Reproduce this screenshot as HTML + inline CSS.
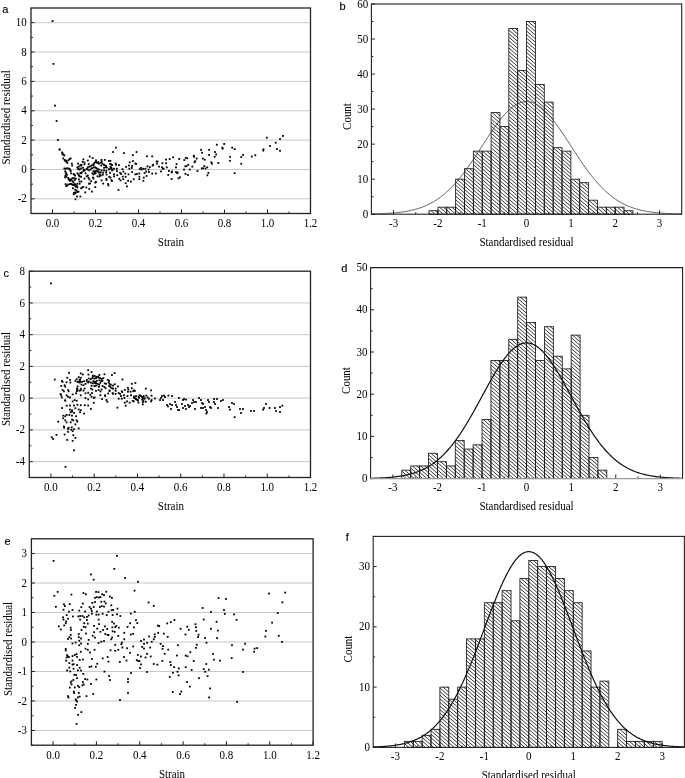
<!DOCTYPE html>
<html><head><meta charset="utf-8"><style>
html,body{margin:0;padding:0;background:#fff;}
body{width:685px;height:778px;overflow:hidden;}
svg{display:block;}
</style></head><body>
<svg width="685" height="778" viewBox="0 0 685 778" style="will-change:transform">
<defs></defs>
<rect width="685" height="778" fill="#fff"/>
<line x1="31.00" y1="198.82" x2="310.50" y2="198.82" stroke="#c8c8c8" stroke-width="1"/>
<line x1="31.00" y1="169.46" x2="310.50" y2="169.46" stroke="#c8c8c8" stroke-width="1"/>
<line x1="31.00" y1="140.11" x2="310.50" y2="140.11" stroke="#c8c8c8" stroke-width="1"/>
<line x1="31.00" y1="110.75" x2="310.50" y2="110.75" stroke="#c8c8c8" stroke-width="1"/>
<line x1="31.00" y1="81.39" x2="310.50" y2="81.39" stroke="#c8c8c8" stroke-width="1"/>
<line x1="31.00" y1="52.04" x2="310.50" y2="52.04" stroke="#c8c8c8" stroke-width="1"/>
<line x1="31.00" y1="22.68" x2="310.50" y2="22.68" stroke="#c8c8c8" stroke-width="1"/>
<rect x="58.72" y="148.72" width="1.8" height="1.8"/>
<rect x="61.18" y="151.56" width="1.8" height="1.8"/>
<rect x="61.93" y="152.68" width="1.8" height="1.8"/>
<rect x="62.68" y="153.79" width="1.8" height="1.8"/>
<rect x="63.42" y="154.54" width="1.8" height="1.8"/>
<rect x="61.56" y="153.42" width="1.8" height="1.8"/>
<rect x="62.30" y="157.52" width="1.8" height="1.8"/>
<rect x="63.79" y="159.01" width="1.8" height="1.8"/>
<rect x="64.54" y="160.13" width="1.8" height="1.8"/>
<rect x="65.66" y="160.88" width="1.8" height="1.8"/>
<rect x="66.40" y="162.00" width="1.8" height="1.8"/>
<rect x="67.52" y="159.39" width="1.8" height="1.8"/>
<rect x="68.64" y="158.27" width="1.8" height="1.8"/>
<rect x="69.76" y="157.52" width="1.8" height="1.8"/>
<rect x="65.29" y="159.76" width="1.8" height="1.8"/>
<rect x="70.88" y="162.74" width="1.8" height="1.8"/>
<rect x="71.25" y="164.61" width="1.8" height="1.8"/>
<rect x="63.42" y="167.59" width="1.8" height="1.8"/>
<rect x="64.54" y="167.81" width="1.8" height="1.8"/>
<rect x="66.03" y="167.37" width="1.8" height="1.8"/>
<rect x="67.52" y="167.59" width="1.8" height="1.8"/>
<rect x="68.64" y="167.96" width="1.8" height="1.8"/>
<rect x="69.39" y="169.08" width="1.8" height="1.8"/>
<rect x="69.76" y="170.20" width="1.8" height="1.8"/>
<rect x="64.91" y="171.69" width="1.8" height="1.8"/>
<rect x="65.29" y="172.81" width="1.8" height="1.8"/>
<rect x="66.03" y="173.93" width="1.8" height="1.8"/>
<rect x="65.29" y="175.79" width="1.8" height="1.8"/>
<rect x="67.15" y="176.91" width="1.8" height="1.8"/>
<rect x="67.90" y="178.03" width="1.8" height="1.8"/>
<rect x="68.27" y="179.15" width="1.8" height="1.8"/>
<rect x="69.01" y="179.89" width="1.8" height="1.8"/>
<rect x="70.13" y="178.40" width="1.8" height="1.8"/>
<rect x="70.88" y="179.52" width="1.8" height="1.8"/>
<rect x="72.00" y="180.64" width="1.8" height="1.8"/>
<rect x="72.74" y="181.76" width="1.8" height="1.8"/>
<rect x="66.03" y="184.74" width="1.8" height="1.8"/>
<rect x="67.15" y="183.62" width="1.8" height="1.8"/>
<rect x="69.01" y="183.25" width="1.8" height="1.8"/>
<rect x="70.13" y="182.88" width="1.8" height="1.8"/>
<rect x="71.25" y="183.62" width="1.8" height="1.8"/>
<rect x="72.37" y="184.00" width="1.8" height="1.8"/>
<rect x="73.49" y="184.37" width="1.8" height="1.8"/>
<rect x="74.23" y="183.25" width="1.8" height="1.8"/>
<rect x="75.35" y="184.37" width="1.8" height="1.8"/>
<rect x="76.10" y="185.49" width="1.8" height="1.8"/>
<rect x="76.47" y="186.61" width="1.8" height="1.8"/>
<rect x="72.00" y="187.35" width="1.8" height="1.8"/>
<rect x="74.23" y="188.84" width="1.8" height="1.8"/>
<rect x="75.73" y="189.59" width="1.8" height="1.8"/>
<rect x="76.47" y="191.08" width="1.8" height="1.8"/>
<rect x="77.59" y="190.71" width="1.8" height="1.8"/>
<rect x="73.12" y="191.83" width="1.8" height="1.8"/>
<rect x="74.23" y="192.57" width="1.8" height="1.8"/>
<rect x="72.74" y="193.32" width="1.8" height="1.8"/>
<rect x="74.98" y="191.45" width="1.8" height="1.8"/>
<rect x="76.10" y="195.55" width="1.8" height="1.8"/>
<rect x="79.45" y="195.55" width="1.8" height="1.8"/>
<rect x="74.61" y="198.39" width="1.8" height="1.8"/>
<rect x="73.49" y="173.93" width="1.8" height="1.8"/>
<rect x="74.23" y="174.67" width="1.8" height="1.8"/>
<rect x="73.12" y="177.28" width="1.8" height="1.8"/>
<rect x="74.98" y="177.66" width="1.8" height="1.8"/>
<rect x="73.86" y="179.15" width="1.8" height="1.8"/>
<rect x="71.62" y="177.28" width="1.8" height="1.8"/>
<rect x="70.13" y="172.44" width="1.8" height="1.8"/>
<rect x="76.47" y="166.47" width="1.8" height="1.8"/>
<rect x="77.96" y="165.73" width="1.8" height="1.8"/>
<rect x="79.45" y="164.23" width="1.8" height="1.8"/>
<rect x="80.57" y="163.86" width="1.8" height="1.8"/>
<rect x="81.69" y="160.88" width="1.8" height="1.8"/>
<rect x="83.56" y="161.62" width="1.8" height="1.8"/>
<rect x="77.22" y="167.96" width="1.8" height="1.8"/>
<rect x="78.71" y="168.71" width="1.8" height="1.8"/>
<rect x="80.20" y="167.59" width="1.8" height="1.8"/>
<rect x="82.06" y="166.84" width="1.8" height="1.8"/>
<rect x="83.18" y="168.71" width="1.8" height="1.8"/>
<rect x="76.47" y="172.44" width="1.8" height="1.8"/>
<rect x="77.59" y="173.56" width="1.8" height="1.8"/>
<rect x="77.96" y="174.67" width="1.8" height="1.8"/>
<rect x="78.71" y="175.42" width="1.8" height="1.8"/>
<rect x="79.83" y="172.44" width="1.8" height="1.8"/>
<rect x="80.95" y="171.69" width="1.8" height="1.8"/>
<rect x="82.44" y="170.20" width="1.8" height="1.8"/>
<rect x="83.93" y="169.45" width="1.8" height="1.8"/>
<rect x="84.67" y="172.44" width="1.8" height="1.8"/>
<rect x="77.96" y="178.40" width="1.8" height="1.8"/>
<rect x="78.71" y="180.64" width="1.8" height="1.8"/>
<rect x="80.57" y="180.64" width="1.8" height="1.8"/>
<rect x="76.47" y="182.88" width="1.8" height="1.8"/>
<rect x="78.71" y="182.88" width="1.8" height="1.8"/>
<rect x="80.20" y="187.35" width="1.8" height="1.8"/>
<rect x="81.32" y="186.61" width="1.8" height="1.8"/>
<rect x="82.44" y="185.86" width="1.8" height="1.8"/>
<rect x="85.42" y="186.61" width="1.8" height="1.8"/>
<rect x="84.30" y="191.45" width="1.8" height="1.8"/>
<rect x="83.56" y="177.66" width="1.8" height="1.8"/>
<rect x="85.79" y="175.42" width="1.8" height="1.8"/>
<rect x="86.91" y="174.67" width="1.8" height="1.8"/>
<rect x="87.66" y="176.91" width="1.8" height="1.8"/>
<rect x="88.40" y="178.40" width="1.8" height="1.8"/>
<rect x="88.78" y="155.66" width="1.8" height="1.8"/>
<rect x="91.76" y="157.15" width="1.8" height="1.8"/>
<rect x="86.91" y="166.47" width="1.8" height="1.8"/>
<rect x="88.40" y="165.73" width="1.8" height="1.8"/>
<rect x="89.89" y="165.35" width="1.8" height="1.8"/>
<rect x="91.39" y="164.23" width="1.8" height="1.8"/>
<rect x="92.88" y="162.74" width="1.8" height="1.8"/>
<rect x="94.00" y="161.62" width="1.8" height="1.8"/>
<rect x="95.11" y="160.88" width="1.8" height="1.8"/>
<rect x="96.23" y="162.00" width="1.8" height="1.8"/>
<rect x="97.35" y="161.25" width="1.8" height="1.8"/>
<rect x="98.10" y="162.74" width="1.8" height="1.8"/>
<rect x="85.79" y="167.96" width="1.8" height="1.8"/>
<rect x="86.91" y="168.71" width="1.8" height="1.8"/>
<rect x="88.40" y="169.45" width="1.8" height="1.8"/>
<rect x="89.89" y="168.34" width="1.8" height="1.8"/>
<rect x="91.39" y="167.22" width="1.8" height="1.8"/>
<rect x="92.88" y="166.47" width="1.8" height="1.8"/>
<rect x="94.37" y="166.47" width="1.8" height="1.8"/>
<rect x="95.49" y="167.22" width="1.8" height="1.8"/>
<rect x="96.61" y="167.96" width="1.8" height="1.8"/>
<rect x="98.10" y="168.71" width="1.8" height="1.8"/>
<rect x="91.39" y="172.44" width="1.8" height="1.8"/>
<rect x="92.50" y="173.56" width="1.8" height="1.8"/>
<rect x="93.62" y="171.69" width="1.8" height="1.8"/>
<rect x="94.37" y="170.20" width="1.8" height="1.8"/>
<rect x="95.86" y="169.83" width="1.8" height="1.8"/>
<rect x="96.98" y="170.57" width="1.8" height="1.8"/>
<rect x="98.10" y="171.69" width="1.8" height="1.8"/>
<rect x="96.61" y="175.42" width="1.8" height="1.8"/>
<rect x="90.27" y="180.27" width="1.8" height="1.8"/>
<rect x="88.03" y="182.88" width="1.8" height="1.8"/>
<rect x="89.15" y="182.50" width="1.8" height="1.8"/>
<rect x="94.37" y="181.76" width="1.8" height="1.8"/>
<rect x="95.11" y="181.01" width="1.8" height="1.8"/>
<rect x="92.50" y="177.66" width="1.8" height="1.8"/>
<rect x="88.40" y="188.10" width="1.8" height="1.8"/>
<rect x="91.01" y="190.71" width="1.8" height="1.8"/>
<rect x="94.37" y="186.23" width="1.8" height="1.8"/>
<rect x="98.84" y="173.93" width="1.8" height="1.8"/>
<rect x="115.00" y="146.71" width="1.8" height="1.8"/>
<rect x="112.19" y="151.13" width="1.8" height="1.8"/>
<rect x="122.96" y="152.17" width="1.8" height="1.8"/>
<rect x="132.03" y="154.18" width="1.8" height="1.8"/>
<rect x="135.65" y="151.13" width="1.8" height="1.8"/>
<rect x="146.09" y="155.39" width="1.8" height="1.8"/>
<rect x="103.92" y="159.00" width="1.8" height="1.8"/>
<rect x="107.94" y="159.96" width="1.8" height="1.8"/>
<rect x="109.54" y="159.96" width="1.8" height="1.8"/>
<rect x="100.71" y="160.61" width="1.8" height="1.8"/>
<rect x="99.90" y="161.81" width="1.8" height="1.8"/>
<rect x="101.51" y="162.61" width="1.8" height="1.8"/>
<rect x="102.71" y="163.82" width="1.8" height="1.8"/>
<rect x="100.30" y="164.62" width="1.8" height="1.8"/>
<rect x="105.12" y="165.02" width="1.8" height="1.8"/>
<rect x="104.72" y="166.23" width="1.8" height="1.8"/>
<rect x="109.14" y="163.02" width="1.8" height="1.8"/>
<rect x="110.34" y="163.42" width="1.8" height="1.8"/>
<rect x="111.15" y="164.22" width="1.8" height="1.8"/>
<rect x="114.76" y="162.61" width="1.8" height="1.8"/>
<rect x="115.16" y="163.82" width="1.8" height="1.8"/>
<rect x="117.98" y="164.22" width="1.8" height="1.8"/>
<rect x="109.54" y="165.83" width="1.8" height="1.8"/>
<rect x="110.34" y="167.83" width="1.8" height="1.8"/>
<rect x="111.95" y="168.64" width="1.8" height="1.8"/>
<rect x="113.16" y="167.83" width="1.8" height="1.8"/>
<rect x="111.15" y="169.44" width="1.8" height="1.8"/>
<rect x="115.97" y="167.83" width="1.8" height="1.8"/>
<rect x="115.97" y="170.24" width="1.8" height="1.8"/>
<rect x="100.71" y="169.44" width="1.8" height="1.8"/>
<rect x="103.12" y="169.44" width="1.8" height="1.8"/>
<rect x="105.53" y="169.84" width="1.8" height="1.8"/>
<rect x="99.90" y="171.45" width="1.8" height="1.8"/>
<rect x="102.31" y="171.85" width="1.8" height="1.8"/>
<rect x="105.12" y="171.45" width="1.8" height="1.8"/>
<rect x="109.14" y="171.85" width="1.8" height="1.8"/>
<rect x="101.91" y="173.86" width="1.8" height="1.8"/>
<rect x="99.90" y="174.66" width="1.8" height="1.8"/>
<rect x="108.34" y="175.87" width="1.8" height="1.8"/>
<rect x="113.16" y="173.46" width="1.8" height="1.8"/>
<rect x="113.16" y="175.47" width="1.8" height="1.8"/>
<rect x="116.37" y="174.26" width="1.8" height="1.8"/>
<rect x="119.18" y="171.85" width="1.8" height="1.8"/>
<rect x="120.14" y="173.06" width="1.8" height="1.8"/>
<rect x="121.59" y="168.24" width="1.8" height="1.8"/>
<rect x="122.39" y="170.65" width="1.8" height="1.8"/>
<rect x="121.83" y="175.71" width="1.8" height="1.8"/>
<rect x="124.40" y="172.65" width="1.8" height="1.8"/>
<rect x="124.80" y="175.87" width="1.8" height="1.8"/>
<rect x="118.38" y="177.88" width="1.8" height="1.8"/>
<rect x="119.58" y="179.48" width="1.8" height="1.8"/>
<rect x="122.39" y="178.28" width="1.8" height="1.8"/>
<rect x="100.71" y="179.48" width="1.8" height="1.8"/>
<rect x="105.53" y="177.88" width="1.8" height="1.8"/>
<rect x="105.53" y="179.08" width="1.8" height="1.8"/>
<rect x="102.31" y="182.69" width="1.8" height="1.8"/>
<rect x="107.13" y="183.10" width="1.8" height="1.8"/>
<rect x="107.53" y="184.54" width="1.8" height="1.8"/>
<rect x="117.57" y="189.12" width="1.8" height="1.8"/>
<rect x="125.20" y="165.99" width="1.8" height="1.8"/>
<rect x="128.02" y="164.62" width="1.8" height="1.8"/>
<rect x="128.82" y="161.41" width="1.8" height="1.8"/>
<rect x="132.03" y="160.20" width="1.8" height="1.8"/>
<rect x="134.44" y="162.61" width="1.8" height="1.8"/>
<rect x="135.24" y="163.02" width="1.8" height="1.8"/>
<rect x="131.23" y="165.02" width="1.8" height="1.8"/>
<rect x="130.83" y="167.03" width="1.8" height="1.8"/>
<rect x="128.42" y="167.83" width="1.8" height="1.8"/>
<rect x="127.61" y="173.46" width="1.8" height="1.8"/>
<rect x="131.23" y="171.05" width="1.8" height="1.8"/>
<rect x="124.80" y="182.29" width="1.8" height="1.8"/>
<rect x="126.01" y="185.51" width="1.8" height="1.8"/>
<rect x="127.21" y="179.88" width="1.8" height="1.8"/>
<rect x="130.02" y="180.69" width="1.8" height="1.8"/>
<rect x="132.83" y="178.28" width="1.8" height="1.8"/>
<rect x="134.44" y="173.46" width="1.8" height="1.8"/>
<rect x="136.05" y="173.06" width="1.8" height="1.8"/>
<rect x="138.46" y="172.65" width="1.8" height="1.8"/>
<rect x="138.46" y="175.87" width="1.8" height="1.8"/>
<rect x="138.46" y="178.28" width="1.8" height="1.8"/>
<rect x="138.86" y="168.24" width="1.8" height="1.8"/>
<rect x="140.87" y="168.64" width="1.8" height="1.8"/>
<rect x="140.06" y="167.03" width="1.8" height="1.8"/>
<rect x="142.47" y="167.83" width="1.8" height="1.8"/>
<rect x="143.68" y="172.25" width="1.8" height="1.8"/>
<rect x="142.88" y="176.67" width="1.8" height="1.8"/>
<rect x="142.47" y="179.88" width="1.8" height="1.8"/>
<rect x="145.69" y="175.06" width="1.8" height="1.8"/>
<rect x="145.28" y="170.65" width="1.8" height="1.8"/>
<rect x="144.48" y="167.83" width="1.8" height="1.8"/>
<rect x="146.49" y="165.43" width="1.8" height="1.8"/>
<rect x="147.69" y="168.64" width="1.8" height="1.8"/>
<rect x="148.90" y="166.23" width="1.8" height="1.8"/>
<rect x="148.10" y="171.05" width="1.8" height="1.8"/>
<rect x="151.29" y="155.49" width="1.8" height="1.8"/>
<rect x="151.73" y="164.68" width="1.8" height="1.8"/>
<rect x="152.31" y="163.81" width="1.8" height="1.8"/>
<rect x="151.29" y="172.71" width="1.8" height="1.8"/>
<rect x="154.94" y="172.57" width="1.8" height="1.8"/>
<rect x="155.67" y="160.60" width="1.8" height="1.8"/>
<rect x="156.69" y="160.60" width="1.8" height="1.8"/>
<rect x="156.11" y="162.79" width="1.8" height="1.8"/>
<rect x="158.15" y="165.71" width="1.8" height="1.8"/>
<rect x="160.05" y="170.52" width="1.8" height="1.8"/>
<rect x="161.07" y="166.44" width="1.8" height="1.8"/>
<rect x="161.51" y="162.35" width="1.8" height="1.8"/>
<rect x="161.95" y="167.60" width="1.8" height="1.8"/>
<rect x="162.68" y="167.90" width="1.8" height="1.8"/>
<rect x="165.16" y="158.70" width="1.8" height="1.8"/>
<rect x="165.16" y="162.35" width="1.8" height="1.8"/>
<rect x="165.89" y="166.44" width="1.8" height="1.8"/>
<rect x="168.08" y="170.09" width="1.8" height="1.8"/>
<rect x="168.81" y="158.11" width="1.8" height="1.8"/>
<rect x="167.35" y="174.03" width="1.8" height="1.8"/>
<rect x="170.71" y="171.55" width="1.8" height="1.8"/>
<rect x="171.29" y="170.52" width="1.8" height="1.8"/>
<rect x="170.71" y="178.11" width="1.8" height="1.8"/>
<rect x="172.17" y="156.51" width="1.8" height="1.8"/>
<rect x="175.09" y="166.44" width="1.8" height="1.8"/>
<rect x="175.67" y="163.22" width="1.8" height="1.8"/>
<rect x="175.09" y="171.11" width="1.8" height="1.8"/>
<rect x="176.84" y="171.55" width="1.8" height="1.8"/>
<rect x="176.11" y="172.28" width="1.8" height="1.8"/>
<rect x="178.30" y="158.11" width="1.8" height="1.8"/>
<rect x="177.57" y="177.38" width="1.8" height="1.8"/>
<rect x="179.03" y="176.36" width="1.8" height="1.8"/>
<rect x="183.41" y="159.14" width="1.8" height="1.8"/>
<rect x="184.87" y="156.95" width="1.8" height="1.8"/>
<rect x="186.33" y="157.38" width="1.8" height="1.8"/>
<rect x="184.43" y="165.41" width="1.8" height="1.8"/>
<rect x="185.60" y="165.27" width="1.8" height="1.8"/>
<rect x="187.35" y="163.95" width="1.8" height="1.8"/>
<rect x="183.11" y="168.63" width="1.8" height="1.8"/>
<rect x="184.57" y="173.01" width="1.8" height="1.8"/>
<rect x="187.06" y="174.03" width="1.8" height="1.8"/>
<rect x="188.81" y="168.63" width="1.8" height="1.8"/>
<rect x="191.44" y="165.71" width="1.8" height="1.8"/>
<rect x="192.90" y="154.76" width="1.8" height="1.8"/>
<rect x="193.19" y="155.92" width="1.8" height="1.8"/>
<rect x="193.63" y="161.33" width="1.8" height="1.8"/>
<rect x="194.36" y="160.30" width="1.8" height="1.8"/>
<rect x="195.82" y="157.68" width="1.8" height="1.8"/>
<rect x="196.55" y="170.09" width="1.8" height="1.8"/>
<rect x="200.19" y="148.92" width="1.8" height="1.8"/>
<rect x="201.22" y="151.84" width="1.8" height="1.8"/>
<rect x="201.95" y="157.68" width="1.8" height="1.8"/>
<rect x="203.84" y="158.84" width="1.8" height="1.8"/>
<rect x="200.92" y="167.46" width="1.8" height="1.8"/>
<rect x="202.09" y="167.46" width="1.8" height="1.8"/>
<rect x="203.41" y="165.27" width="1.8" height="1.8"/>
<rect x="204.57" y="167.60" width="1.8" height="1.8"/>
<rect x="206.33" y="166.44" width="1.8" height="1.8"/>
<rect x="207.49" y="171.98" width="1.8" height="1.8"/>
<rect x="206.47" y="174.46" width="1.8" height="1.8"/>
<rect x="208.22" y="148.92" width="1.8" height="1.8"/>
<rect x="208.22" y="154.03" width="1.8" height="1.8"/>
<rect x="210.41" y="161.33" width="1.8" height="1.8"/>
<rect x="211.14" y="162.79" width="1.8" height="1.8"/>
<rect x="214.06" y="151.11" width="1.8" height="1.8"/>
<rect x="215.23" y="153.59" width="1.8" height="1.8"/>
<rect x="213.77" y="155.92" width="1.8" height="1.8"/>
<rect x="215.96" y="143.81" width="1.8" height="1.8"/>
<rect x="217.42" y="162.06" width="1.8" height="1.8"/>
<rect x="221.36" y="146.73" width="1.8" height="1.8"/>
<rect x="221.80" y="147.75" width="1.8" height="1.8"/>
<rect x="223.26" y="143.08" width="1.8" height="1.8"/>
<rect x="229.10" y="155.92" width="1.8" height="1.8"/>
<rect x="229.10" y="159.87" width="1.8" height="1.8"/>
<rect x="231.29" y="146.73" width="1.8" height="1.8"/>
<rect x="233.77" y="148.19" width="1.8" height="1.8"/>
<rect x="233.77" y="172.28" width="1.8" height="1.8"/>
<rect x="240.34" y="156.22" width="1.8" height="1.8"/>
<rect x="242.09" y="154.03" width="1.8" height="1.8"/>
<rect x="240.34" y="162.79" width="1.8" height="1.8"/>
<rect x="250.90" y="155.60" width="1.8" height="1.8"/>
<rect x="254.40" y="154.30" width="1.8" height="1.8"/>
<rect x="262.60" y="148.40" width="1.8" height="1.8"/>
<rect x="262.30" y="149.70" width="1.8" height="1.8"/>
<rect x="265.90" y="136.80" width="1.8" height="1.8"/>
<rect x="269.10" y="145.10" width="1.8" height="1.8"/>
<rect x="274.80" y="141.80" width="1.8" height="1.8"/>
<rect x="276.10" y="148.10" width="1.8" height="1.8"/>
<rect x="279.10" y="149.90" width="1.8" height="1.8"/>
<rect x="279.10" y="138.20" width="1.8" height="1.8"/>
<rect x="282.00" y="135.00" width="1.8" height="1.8"/>
<rect x="51.60" y="20.10" width="1.8" height="1.8"/>
<rect x="52.50" y="63.00" width="1.8" height="1.8"/>
<rect x="54.10" y="104.70" width="1.8" height="1.8"/>
<rect x="55.70" y="120.10" width="1.8" height="1.8"/>
<rect x="57.10" y="139.10" width="1.8" height="1.8"/>
<rect x="58.70" y="148.50" width="1.8" height="1.8"/>
<rect x="92.48" y="170.41" width="1.8" height="1.8"/>
<rect x="108.52" y="168.34" width="1.8" height="1.8"/>
<rect x="94.37" y="171.02" width="1.8" height="1.8"/>
<rect x="83.38" y="169.36" width="1.8" height="1.8"/>
<rect x="98.52" y="175.55" width="1.8" height="1.8"/>
<rect x="80.30" y="164.77" width="1.8" height="1.8"/>
<rect x="80.18" y="175.91" width="1.8" height="1.8"/>
<rect x="100.68" y="159.02" width="1.8" height="1.8"/>
<rect x="110.49" y="179.32" width="1.8" height="1.8"/>
<rect x="99.33" y="171.64" width="1.8" height="1.8"/>
<rect x="82.45" y="158.43" width="1.8" height="1.8"/>
<rect x="95.06" y="159.41" width="1.8" height="1.8"/>
<rect x="83.57" y="163.42" width="1.8" height="1.8"/>
<rect x="78.12" y="168.31" width="1.8" height="1.8"/>
<rect x="92.08" y="176.63" width="1.8" height="1.8"/>
<rect x="94.75" y="172.19" width="1.8" height="1.8"/>
<rect x="94.09" y="172.67" width="1.8" height="1.8"/>
<rect x="92.65" y="164.22" width="1.8" height="1.8"/>
<rect x="111.02" y="180.01" width="1.8" height="1.8"/>
<rect x="105.67" y="173.67" width="1.8" height="1.8"/>
<rect x="87.82" y="163.15" width="1.8" height="1.8"/>
<rect x="86.93" y="159.64" width="1.8" height="1.8"/>
<rect x="103.15" y="166.91" width="1.8" height="1.8"/>
<rect x="105.88" y="166.60" width="1.8" height="1.8"/>
<rect x="109.67" y="176.74" width="1.8" height="1.8"/>
<rect x="77.12" y="162.71" width="1.8" height="1.8"/>
<rect x="108.05" y="168.44" width="1.8" height="1.8"/>
<rect x="110.43" y="166.84" width="1.8" height="1.8"/>
<rect x="79.58" y="171.95" width="1.8" height="1.8"/>
<rect x="103.57" y="164.04" width="1.8" height="1.8"/>
<rect x="64.15" y="176.42" width="1.8" height="1.8"/>
<rect x="74.67" y="185.78" width="1.8" height="1.8"/>
<rect x="64.52" y="174.52" width="1.8" height="1.8"/>
<rect x="64.31" y="170.42" width="1.8" height="1.8"/>
<rect x="72.66" y="173.01" width="1.8" height="1.8"/>
<rect x="69.81" y="178.94" width="1.8" height="1.8"/>
<rect x="65.39" y="185.20" width="1.8" height="1.8"/>
<rect x="64.67" y="183.26" width="1.8" height="1.8"/>
<line x1="52.50" y1="213.50" x2="52.50" y2="209.50" stroke="#222" stroke-width="1"/>
<line x1="95.50" y1="213.50" x2="95.50" y2="209.50" stroke="#222" stroke-width="1"/>
<line x1="138.50" y1="213.50" x2="138.50" y2="209.50" stroke="#222" stroke-width="1"/>
<line x1="181.50" y1="213.50" x2="181.50" y2="209.50" stroke="#222" stroke-width="1"/>
<line x1="224.50" y1="213.50" x2="224.50" y2="209.50" stroke="#222" stroke-width="1"/>
<line x1="267.50" y1="213.50" x2="267.50" y2="209.50" stroke="#222" stroke-width="1"/>
<line x1="310.50" y1="213.50" x2="310.50" y2="209.50" stroke="#222" stroke-width="1"/>
<line x1="74.00" y1="213.50" x2="74.00" y2="211.50" stroke="#222" stroke-width="1"/>
<line x1="117.00" y1="213.50" x2="117.00" y2="211.50" stroke="#222" stroke-width="1"/>
<line x1="160.00" y1="213.50" x2="160.00" y2="211.50" stroke="#222" stroke-width="1"/>
<line x1="203.00" y1="213.50" x2="203.00" y2="211.50" stroke="#222" stroke-width="1"/>
<line x1="246.00" y1="213.50" x2="246.00" y2="211.50" stroke="#222" stroke-width="1"/>
<line x1="289.00" y1="213.50" x2="289.00" y2="211.50" stroke="#222" stroke-width="1"/>
<line x1="31.00" y1="198.82" x2="34.50" y2="198.82" stroke="#222" stroke-width="1"/>
<line x1="31.00" y1="169.46" x2="34.50" y2="169.46" stroke="#222" stroke-width="1"/>
<line x1="31.00" y1="140.11" x2="34.50" y2="140.11" stroke="#222" stroke-width="1"/>
<line x1="31.00" y1="110.75" x2="34.50" y2="110.75" stroke="#222" stroke-width="1"/>
<line x1="31.00" y1="81.39" x2="34.50" y2="81.39" stroke="#222" stroke-width="1"/>
<line x1="31.00" y1="52.04" x2="34.50" y2="52.04" stroke="#222" stroke-width="1"/>
<line x1="31.00" y1="22.68" x2="34.50" y2="22.68" stroke="#222" stroke-width="1"/>
<line x1="31.00" y1="184.14" x2="33.00" y2="184.14" stroke="#222" stroke-width="1"/>
<line x1="31.00" y1="154.79" x2="33.00" y2="154.79" stroke="#222" stroke-width="1"/>
<line x1="31.00" y1="125.43" x2="33.00" y2="125.43" stroke="#222" stroke-width="1"/>
<line x1="31.00" y1="96.07" x2="33.00" y2="96.07" stroke="#222" stroke-width="1"/>
<line x1="31.00" y1="66.71" x2="33.00" y2="66.71" stroke="#222" stroke-width="1"/>
<line x1="31.00" y1="37.36" x2="33.00" y2="37.36" stroke="#222" stroke-width="1"/>
<rect x="31.00" y="8.00" width="279.50" height="205.50" fill="none" stroke="#222" stroke-width="1.3"/>
<text transform="translate(52.50,226.90) scale(1,1.2)" font-family="Liberation Serif" font-size="11" text-anchor="middle" >0.0</text>
<text transform="translate(95.50,226.90) scale(1,1.2)" font-family="Liberation Serif" font-size="11" text-anchor="middle" >0.2</text>
<text transform="translate(138.50,226.90) scale(1,1.2)" font-family="Liberation Serif" font-size="11" text-anchor="middle" >0.4</text>
<text transform="translate(181.50,226.90) scale(1,1.2)" font-family="Liberation Serif" font-size="11" text-anchor="middle" >0.6</text>
<text transform="translate(224.50,226.90) scale(1,1.2)" font-family="Liberation Serif" font-size="11" text-anchor="middle" >0.8</text>
<text transform="translate(267.50,226.90) scale(1,1.2)" font-family="Liberation Serif" font-size="11" text-anchor="middle" >1.0</text>
<text transform="translate(310.50,226.90) scale(1,1.2)" font-family="Liberation Serif" font-size="11" text-anchor="middle" >1.2</text>
<text transform="translate(26.80,202.42) scale(1,1.2)" font-family="Liberation Serif" font-size="11" text-anchor="end" >-2</text>
<text transform="translate(26.80,173.06) scale(1,1.2)" font-family="Liberation Serif" font-size="11" text-anchor="end" >0</text>
<text transform="translate(26.80,143.71) scale(1,1.2)" font-family="Liberation Serif" font-size="11" text-anchor="end" >2</text>
<text transform="translate(26.80,114.35) scale(1,1.2)" font-family="Liberation Serif" font-size="11" text-anchor="end" >4</text>
<text transform="translate(26.80,84.99) scale(1,1.2)" font-family="Liberation Serif" font-size="11" text-anchor="end" >6</text>
<text transform="translate(26.80,55.64) scale(1,1.2)" font-family="Liberation Serif" font-size="11" text-anchor="end" >8</text>
<text transform="translate(26.80,26.28) scale(1,1.2)" font-family="Liberation Serif" font-size="11" text-anchor="end" >10</text>
<text transform="translate(170.90,245.70) scale(1,1.2)" font-family="Liberation Serif" font-size="11" text-anchor="middle" >Strain</text>
<text transform="translate(9.50,117.40) rotate(-90) scale(1,1.2)" font-family="Liberation Serif" font-size="11" text-anchor="middle" >Standardised residual</text>
<text transform="translate(2.30,12.60) scale(1,1.0)" font-family="Liberation Sans" font-size="11" text-anchor="start" stroke="#000" stroke-width="0.15">a</text>
<line x1="29.30" y1="461.63" x2="310.50" y2="461.63" stroke="#c8c8c8" stroke-width="1"/>
<line x1="29.30" y1="429.89" x2="310.50" y2="429.89" stroke="#c8c8c8" stroke-width="1"/>
<line x1="29.30" y1="398.15" x2="310.50" y2="398.15" stroke="#c8c8c8" stroke-width="1"/>
<line x1="29.30" y1="366.42" x2="310.50" y2="366.42" stroke="#c8c8c8" stroke-width="1"/>
<line x1="29.30" y1="334.68" x2="310.50" y2="334.68" stroke="#c8c8c8" stroke-width="1"/>
<line x1="29.30" y1="302.94" x2="310.50" y2="302.94" stroke="#c8c8c8" stroke-width="1"/>
<rect x="53.82" y="378.67" width="1.8" height="1.8"/>
<rect x="68.12" y="371.93" width="1.8" height="1.8"/>
<rect x="66.37" y="376.92" width="1.8" height="1.8"/>
<rect x="69.07" y="378.94" width="1.8" height="1.8"/>
<rect x="60.97" y="380.02" width="1.8" height="1.8"/>
<rect x="61.64" y="380.97" width="1.8" height="1.8"/>
<rect x="65.69" y="381.37" width="1.8" height="1.8"/>
<rect x="69.47" y="381.64" width="1.8" height="1.8"/>
<rect x="60.29" y="385.02" width="1.8" height="1.8"/>
<rect x="63.67" y="384.34" width="1.8" height="1.8"/>
<rect x="64.34" y="385.69" width="1.8" height="1.8"/>
<rect x="61.64" y="389.07" width="1.8" height="1.8"/>
<rect x="62.99" y="390.42" width="1.8" height="1.8"/>
<rect x="67.31" y="389.07" width="1.8" height="1.8"/>
<rect x="67.72" y="390.42" width="1.8" height="1.8"/>
<rect x="59.62" y="393.11" width="1.8" height="1.8"/>
<rect x="60.29" y="394.46" width="1.8" height="1.8"/>
<rect x="60.97" y="396.49" width="1.8" height="1.8"/>
<rect x="65.69" y="394.46" width="1.8" height="1.8"/>
<rect x="67.04" y="395.81" width="1.8" height="1.8"/>
<rect x="69.07" y="396.49" width="1.8" height="1.8"/>
<rect x="71.77" y="393.52" width="1.8" height="1.8"/>
<rect x="64.34" y="399.86" width="1.8" height="1.8"/>
<rect x="71.77" y="400.54" width="1.8" height="1.8"/>
<rect x="73.79" y="399.19" width="1.8" height="1.8"/>
<rect x="75.81" y="399.86" width="1.8" height="1.8"/>
<rect x="69.07" y="404.59" width="1.8" height="1.8"/>
<rect x="73.11" y="404.59" width="1.8" height="1.8"/>
<rect x="76.49" y="403.91" width="1.8" height="1.8"/>
<rect x="79.86" y="404.32" width="1.8" height="1.8"/>
<rect x="83.91" y="404.32" width="1.8" height="1.8"/>
<rect x="87.28" y="404.59" width="1.8" height="1.8"/>
<rect x="74.46" y="407.28" width="1.8" height="1.8"/>
<rect x="77.84" y="408.63" width="1.8" height="1.8"/>
<rect x="79.86" y="409.31" width="1.8" height="1.8"/>
<rect x="79.19" y="411.33" width="1.8" height="1.8"/>
<rect x="69.07" y="408.63" width="1.8" height="1.8"/>
<rect x="69.74" y="411.33" width="1.8" height="1.8"/>
<rect x="71.09" y="410.66" width="1.8" height="1.8"/>
<rect x="73.11" y="412.01" width="1.8" height="1.8"/>
<rect x="68.39" y="414.03" width="1.8" height="1.8"/>
<rect x="71.09" y="414.71" width="1.8" height="1.8"/>
<rect x="75.14" y="415.38" width="1.8" height="1.8"/>
<rect x="83.24" y="412.68" width="1.8" height="1.8"/>
<rect x="89.98" y="407.96" width="1.8" height="1.8"/>
<rect x="62.32" y="414.71" width="1.8" height="1.8"/>
<rect x="64.34" y="415.38" width="1.8" height="1.8"/>
<rect x="65.69" y="414.03" width="1.8" height="1.8"/>
<rect x="62.32" y="417.41" width="1.8" height="1.8"/>
<rect x="64.34" y="419.43" width="1.8" height="1.8"/>
<rect x="65.69" y="421.45" width="1.8" height="1.8"/>
<rect x="69.74" y="421.45" width="1.8" height="1.8"/>
<rect x="71.09" y="418.76" width="1.8" height="1.8"/>
<rect x="72.44" y="419.43" width="1.8" height="1.8"/>
<rect x="75.81" y="419.43" width="1.8" height="1.8"/>
<rect x="76.49" y="420.78" width="1.8" height="1.8"/>
<rect x="74.46" y="423.48" width="1.8" height="1.8"/>
<rect x="57.33" y="420.78" width="1.8" height="1.8"/>
<rect x="62.99" y="425.50" width="1.8" height="1.8"/>
<rect x="67.72" y="426.85" width="1.8" height="1.8"/>
<rect x="70.42" y="428.88" width="1.8" height="1.8"/>
<rect x="71.77" y="430.23" width="1.8" height="1.8"/>
<rect x="73.11" y="428.20" width="1.8" height="1.8"/>
<rect x="77.84" y="427.53" width="1.8" height="1.8"/>
<rect x="67.04" y="430.90" width="1.8" height="1.8"/>
<rect x="63.67" y="433.60" width="1.8" height="1.8"/>
<rect x="55.57" y="434.01" width="1.8" height="1.8"/>
<rect x="50.85" y="436.30" width="1.8" height="1.8"/>
<rect x="52.20" y="438.05" width="1.8" height="1.8"/>
<rect x="72.44" y="434.28" width="1.8" height="1.8"/>
<rect x="74.46" y="436.97" width="1.8" height="1.8"/>
<rect x="66.37" y="439.00" width="1.8" height="1.8"/>
<rect x="71.77" y="439.94" width="1.8" height="1.8"/>
<rect x="73.11" y="449.39" width="1.8" height="1.8"/>
<rect x="64.61" y="465.99" width="1.8" height="1.8"/>
<rect x="87.28" y="369.23" width="1.8" height="1.8"/>
<rect x="90.66" y="371.12" width="1.8" height="1.8"/>
<rect x="79.86" y="372.47" width="1.8" height="1.8"/>
<rect x="81.89" y="373.55" width="1.8" height="1.8"/>
<rect x="77.84" y="376.25" width="1.8" height="1.8"/>
<rect x="79.86" y="376.92" width="1.8" height="1.8"/>
<rect x="75.81" y="378.27" width="1.8" height="1.8"/>
<rect x="79.19" y="378.94" width="1.8" height="1.8"/>
<rect x="76.49" y="380.97" width="1.8" height="1.8"/>
<rect x="78.51" y="381.64" width="1.8" height="1.8"/>
<rect x="81.21" y="380.97" width="1.8" height="1.8"/>
<rect x="83.24" y="380.29" width="1.8" height="1.8"/>
<rect x="85.94" y="378.94" width="1.8" height="1.8"/>
<rect x="87.96" y="377.60" width="1.8" height="1.8"/>
<rect x="89.98" y="378.27" width="1.8" height="1.8"/>
<rect x="80.54" y="383.67" width="1.8" height="1.8"/>
<rect x="82.56" y="384.34" width="1.8" height="1.8"/>
<rect x="84.59" y="382.99" width="1.8" height="1.8"/>
<rect x="87.28" y="381.64" width="1.8" height="1.8"/>
<rect x="89.98" y="381.64" width="1.8" height="1.8"/>
<rect x="89.98" y="387.72" width="1.8" height="1.8"/>
<rect x="76.49" y="387.72" width="1.8" height="1.8"/>
<rect x="75.81" y="390.42" width="1.8" height="1.8"/>
<rect x="75.14" y="392.44" width="1.8" height="1.8"/>
<rect x="78.51" y="389.74" width="1.8" height="1.8"/>
<rect x="82.56" y="389.74" width="1.8" height="1.8"/>
<rect x="84.59" y="392.44" width="1.8" height="1.8"/>
<rect x="87.28" y="391.77" width="1.8" height="1.8"/>
<rect x="89.31" y="393.79" width="1.8" height="1.8"/>
<rect x="90.66" y="395.81" width="1.8" height="1.8"/>
<rect x="87.28" y="398.51" width="1.8" height="1.8"/>
<rect x="84.59" y="397.16" width="1.8" height="1.8"/>
<rect x="79.86" y="394.46" width="1.8" height="1.8"/>
<rect x="113.69" y="372.16" width="1.8" height="1.8"/>
<rect x="111.06" y="374.17" width="1.8" height="1.8"/>
<rect x="121.57" y="378.55" width="1.8" height="1.8"/>
<rect x="130.94" y="382.93" width="1.8" height="1.8"/>
<rect x="134.45" y="382.05" width="1.8" height="1.8"/>
<rect x="144.95" y="387.74" width="1.8" height="1.8"/>
<rect x="150.21" y="389.49" width="1.8" height="1.8"/>
<rect x="91.98" y="375.48" width="1.8" height="1.8"/>
<rect x="93.73" y="375.05" width="1.8" height="1.8"/>
<rect x="95.48" y="375.92" width="1.8" height="1.8"/>
<rect x="91.54" y="377.23" width="1.8" height="1.8"/>
<rect x="93.29" y="377.67" width="1.8" height="1.8"/>
<rect x="95.04" y="377.23" width="1.8" height="1.8"/>
<rect x="97.67" y="376.80" width="1.8" height="1.8"/>
<rect x="99.42" y="377.23" width="1.8" height="1.8"/>
<rect x="100.73" y="378.11" width="1.8" height="1.8"/>
<rect x="102.48" y="377.23" width="1.8" height="1.8"/>
<rect x="92.41" y="380.30" width="1.8" height="1.8"/>
<rect x="94.16" y="380.74" width="1.8" height="1.8"/>
<rect x="95.92" y="379.86" width="1.8" height="1.8"/>
<rect x="98.54" y="379.42" width="1.8" height="1.8"/>
<rect x="100.29" y="380.30" width="1.8" height="1.8"/>
<rect x="101.61" y="379.86" width="1.8" height="1.8"/>
<rect x="106.86" y="378.99" width="1.8" height="1.8"/>
<rect x="108.18" y="379.86" width="1.8" height="1.8"/>
<rect x="91.54" y="382.49" width="1.8" height="1.8"/>
<rect x="93.29" y="382.05" width="1.8" height="1.8"/>
<rect x="95.04" y="382.49" width="1.8" height="1.8"/>
<rect x="96.79" y="382.93" width="1.8" height="1.8"/>
<rect x="99.42" y="382.05" width="1.8" height="1.8"/>
<rect x="103.80" y="382.49" width="1.8" height="1.8"/>
<rect x="105.11" y="382.93" width="1.8" height="1.8"/>
<rect x="108.61" y="382.93" width="1.8" height="1.8"/>
<rect x="109.93" y="383.80" width="1.8" height="1.8"/>
<rect x="107.74" y="381.61" width="1.8" height="1.8"/>
<rect x="93.73" y="385.12" width="1.8" height="1.8"/>
<rect x="95.48" y="384.68" width="1.8" height="1.8"/>
<rect x="98.11" y="385.99" width="1.8" height="1.8"/>
<rect x="101.61" y="385.12" width="1.8" height="1.8"/>
<rect x="103.36" y="385.99" width="1.8" height="1.8"/>
<rect x="104.67" y="387.30" width="1.8" height="1.8"/>
<rect x="113.87" y="383.36" width="1.8" height="1.8"/>
<rect x="112.12" y="384.68" width="1.8" height="1.8"/>
<rect x="109.49" y="385.99" width="1.8" height="1.8"/>
<rect x="110.80" y="387.30" width="1.8" height="1.8"/>
<rect x="112.12" y="387.74" width="1.8" height="1.8"/>
<rect x="114.74" y="387.74" width="1.8" height="1.8"/>
<rect x="116.93" y="385.55" width="1.8" height="1.8"/>
<rect x="91.54" y="388.62" width="1.8" height="1.8"/>
<rect x="95.04" y="389.93" width="1.8" height="1.8"/>
<rect x="97.67" y="389.06" width="1.8" height="1.8"/>
<rect x="100.73" y="388.62" width="1.8" height="1.8"/>
<rect x="108.61" y="389.49" width="1.8" height="1.8"/>
<rect x="114.74" y="389.93" width="1.8" height="1.8"/>
<rect x="91.10" y="392.12" width="1.8" height="1.8"/>
<rect x="99.42" y="394.31" width="1.8" height="1.8"/>
<rect x="104.23" y="394.31" width="1.8" height="1.8"/>
<rect x="104.23" y="395.19" width="1.8" height="1.8"/>
<rect x="107.30" y="392.56" width="1.8" height="1.8"/>
<rect x="111.68" y="392.12" width="1.8" height="1.8"/>
<rect x="112.12" y="393.00" width="1.8" height="1.8"/>
<rect x="114.74" y="393.00" width="1.8" height="1.8"/>
<rect x="117.81" y="392.12" width="1.8" height="1.8"/>
<rect x="119.12" y="393.00" width="1.8" height="1.8"/>
<rect x="120.87" y="390.37" width="1.8" height="1.8"/>
<rect x="121.31" y="391.25" width="1.8" height="1.8"/>
<rect x="123.94" y="389.06" width="1.8" height="1.8"/>
<rect x="127.00" y="386.87" width="1.8" height="1.8"/>
<rect x="127.44" y="388.62" width="1.8" height="1.8"/>
<rect x="127.00" y="390.81" width="1.8" height="1.8"/>
<rect x="129.63" y="390.81" width="1.8" height="1.8"/>
<rect x="130.94" y="387.30" width="1.8" height="1.8"/>
<rect x="133.13" y="389.49" width="1.8" height="1.8"/>
<rect x="134.01" y="389.93" width="1.8" height="1.8"/>
<rect x="123.06" y="394.31" width="1.8" height="1.8"/>
<rect x="120.00" y="395.19" width="1.8" height="1.8"/>
<rect x="117.81" y="397.81" width="1.8" height="1.8"/>
<rect x="120.87" y="397.81" width="1.8" height="1.8"/>
<rect x="123.50" y="396.94" width="1.8" height="1.8"/>
<rect x="126.56" y="395.19" width="1.8" height="1.8"/>
<rect x="130.07" y="394.31" width="1.8" height="1.8"/>
<rect x="92.85" y="396.94" width="1.8" height="1.8"/>
<rect x="93.73" y="396.50" width="1.8" height="1.8"/>
<rect x="101.17" y="398.25" width="1.8" height="1.8"/>
<rect x="105.55" y="399.13" width="1.8" height="1.8"/>
<rect x="106.42" y="400.88" width="1.8" height="1.8"/>
<rect x="92.85" y="401.93" width="1.8" height="1.8"/>
<rect x="116.49" y="406.74" width="1.8" height="1.8"/>
<rect x="124.81" y="404.82" width="1.8" height="1.8"/>
<rect x="123.94" y="401.75" width="1.8" height="1.8"/>
<rect x="126.13" y="400.44" width="1.8" height="1.8"/>
<rect x="128.75" y="401.75" width="1.8" height="1.8"/>
<rect x="131.82" y="400.00" width="1.8" height="1.8"/>
<rect x="133.57" y="397.20" width="1.8" height="1.8"/>
<rect x="134.88" y="397.81" width="1.8" height="1.8"/>
<rect x="135.76" y="398.69" width="1.8" height="1.8"/>
<rect x="137.07" y="399.56" width="1.8" height="1.8"/>
<rect x="137.51" y="401.75" width="1.8" height="1.8"/>
<rect x="138.82" y="394.31" width="1.8" height="1.8"/>
<rect x="140.14" y="395.19" width="1.8" height="1.8"/>
<rect x="141.45" y="396.06" width="1.8" height="1.8"/>
<rect x="142.76" y="395.19" width="1.8" height="1.8"/>
<rect x="143.64" y="397.37" width="1.8" height="1.8"/>
<rect x="145.39" y="394.75" width="1.8" height="1.8"/>
<rect x="146.70" y="396.50" width="1.8" height="1.8"/>
<rect x="148.02" y="397.81" width="1.8" height="1.8"/>
<rect x="150.64" y="394.75" width="1.8" height="1.8"/>
<rect x="141.89" y="401.32" width="1.8" height="1.8"/>
<rect x="141.89" y="403.50" width="1.8" height="1.8"/>
<rect x="144.95" y="400.88" width="1.8" height="1.8"/>
<rect x="150.21" y="400.44" width="1.8" height="1.8"/>
<rect x="132.26" y="390.37" width="1.8" height="1.8"/>
<rect x="160.10" y="397.10" width="1.8" height="1.8"/>
<rect x="161.10" y="395.10" width="1.8" height="1.8"/>
<rect x="163.10" y="394.70" width="1.8" height="1.8"/>
<rect x="164.10" y="396.10" width="1.8" height="1.8"/>
<rect x="167.50" y="394.70" width="1.8" height="1.8"/>
<rect x="171.10" y="395.10" width="1.8" height="1.8"/>
<rect x="159.10" y="399.10" width="1.8" height="1.8"/>
<rect x="162.10" y="399.10" width="1.8" height="1.8"/>
<rect x="166.10" y="404.10" width="1.8" height="1.8"/>
<rect x="167.10" y="405.50" width="1.8" height="1.8"/>
<rect x="170.10" y="408.10" width="1.8" height="1.8"/>
<rect x="169.10" y="403.10" width="1.8" height="1.8"/>
<rect x="171.10" y="404.10" width="1.8" height="1.8"/>
<rect x="174.10" y="401.10" width="1.8" height="1.8"/>
<rect x="175.10" y="404.10" width="1.8" height="1.8"/>
<rect x="176.10" y="406.10" width="1.8" height="1.8"/>
<rect x="177.10" y="409.10" width="1.8" height="1.8"/>
<rect x="178.10" y="409.10" width="1.8" height="1.8"/>
<rect x="178.10" y="397.10" width="1.8" height="1.8"/>
<rect x="182.10" y="399.10" width="1.8" height="1.8"/>
<rect x="183.10" y="398.10" width="1.8" height="1.8"/>
<rect x="185.10" y="398.70" width="1.8" height="1.8"/>
<rect x="181.10" y="403.10" width="1.8" height="1.8"/>
<rect x="184.10" y="405.10" width="1.8" height="1.8"/>
<rect x="182.10" y="407.10" width="1.8" height="1.8"/>
<rect x="185.10" y="408.10" width="1.8" height="1.8"/>
<rect x="187.10" y="404.10" width="1.8" height="1.8"/>
<rect x="188.10" y="406.10" width="1.8" height="1.8"/>
<rect x="189.10" y="405.10" width="1.8" height="1.8"/>
<rect x="191.10" y="402.10" width="1.8" height="1.8"/>
<rect x="192.10" y="399.10" width="1.8" height="1.8"/>
<rect x="193.10" y="401.10" width="1.8" height="1.8"/>
<rect x="195.10" y="401.10" width="1.8" height="1.8"/>
<rect x="194.10" y="408.10" width="1.8" height="1.8"/>
<rect x="198.10" y="397.10" width="1.8" height="1.8"/>
<rect x="200.10" y="399.10" width="1.8" height="1.8"/>
<rect x="201.10" y="402.10" width="1.8" height="1.8"/>
<rect x="202.10" y="403.10" width="1.8" height="1.8"/>
<rect x="200.10" y="407.10" width="1.8" height="1.8"/>
<rect x="202.10" y="407.10" width="1.8" height="1.8"/>
<rect x="204.10" y="406.10" width="1.8" height="1.8"/>
<rect x="205.10" y="409.10" width="1.8" height="1.8"/>
<rect x="206.10" y="411.10" width="1.8" height="1.8"/>
<rect x="205.50" y="412.70" width="1.8" height="1.8"/>
<rect x="207.10" y="399.10" width="1.8" height="1.8"/>
<rect x="208.10" y="401.10" width="1.8" height="1.8"/>
<rect x="209.10" y="406.10" width="1.8" height="1.8"/>
<rect x="210.10" y="407.10" width="1.8" height="1.8"/>
<rect x="213.10" y="401.10" width="1.8" height="1.8"/>
<rect x="214.10" y="403.10" width="1.8" height="1.8"/>
<rect x="213.10" y="398.10" width="1.8" height="1.8"/>
<rect x="216.10" y="398.10" width="1.8" height="1.8"/>
<rect x="217.10" y="407.10" width="1.8" height="1.8"/>
<rect x="220.10" y="400.10" width="1.8" height="1.8"/>
<rect x="222.10" y="399.10" width="1.8" height="1.8"/>
<rect x="228.10" y="406.10" width="1.8" height="1.8"/>
<rect x="229.10" y="408.70" width="1.8" height="1.8"/>
<rect x="231.10" y="402.10" width="1.8" height="1.8"/>
<rect x="233.10" y="403.10" width="1.8" height="1.8"/>
<rect x="233.70" y="416.30" width="1.8" height="1.8"/>
<rect x="239.10" y="408.10" width="1.8" height="1.8"/>
<rect x="240.10" y="412.10" width="1.8" height="1.8"/>
<rect x="242.10" y="408.10" width="1.8" height="1.8"/>
<rect x="250.10" y="410.10" width="1.8" height="1.8"/>
<rect x="253.10" y="410.10" width="1.8" height="1.8"/>
<rect x="262.10" y="408.70" width="1.8" height="1.8"/>
<rect x="263.10" y="407.10" width="1.8" height="1.8"/>
<rect x="265.10" y="403.10" width="1.8" height="1.8"/>
<rect x="268.70" y="407.10" width="1.8" height="1.8"/>
<rect x="274.10" y="407.10" width="1.8" height="1.8"/>
<rect x="275.10" y="410.10" width="1.8" height="1.8"/>
<rect x="279.10" y="406.10" width="1.8" height="1.8"/>
<rect x="279.10" y="411.10" width="1.8" height="1.8"/>
<rect x="281.50" y="404.70" width="1.8" height="1.8"/>
<rect x="50.10" y="282.50" width="1.8" height="1.8"/>
<rect x="90.71" y="384.93" width="1.8" height="1.8"/>
<rect x="97.42" y="375.67" width="1.8" height="1.8"/>
<rect x="74.48" y="379.85" width="1.8" height="1.8"/>
<rect x="83.69" y="387.69" width="1.8" height="1.8"/>
<rect x="98.27" y="383.93" width="1.8" height="1.8"/>
<rect x="93.64" y="385.00" width="1.8" height="1.8"/>
<rect x="79.19" y="381.02" width="1.8" height="1.8"/>
<rect x="79.78" y="389.41" width="1.8" height="1.8"/>
<rect x="76.16" y="387.84" width="1.8" height="1.8"/>
<rect x="76.71" y="385.47" width="1.8" height="1.8"/>
<rect x="85.89" y="380.38" width="1.8" height="1.8"/>
<rect x="103.58" y="373.43" width="1.8" height="1.8"/>
<rect x="76.23" y="389.57" width="1.8" height="1.8"/>
<rect x="91.91" y="374.74" width="1.8" height="1.8"/>
<rect x="108.65" y="390.14" width="1.8" height="1.8"/>
<rect x="78.04" y="380.72" width="1.8" height="1.8"/>
<rect x="78.83" y="378.73" width="1.8" height="1.8"/>
<rect x="95.85" y="376.04" width="1.8" height="1.8"/>
<rect x="98.49" y="374.02" width="1.8" height="1.8"/>
<rect x="80.09" y="387.78" width="1.8" height="1.8"/>
<rect x="88.12" y="380.64" width="1.8" height="1.8"/>
<rect x="94.96" y="381.68" width="1.8" height="1.8"/>
<rect x="87.56" y="373.65" width="1.8" height="1.8"/>
<rect x="99.52" y="390.51" width="1.8" height="1.8"/>
<rect x="108.27" y="385.04" width="1.8" height="1.8"/>
<rect x="141.72" y="396.37" width="1.8" height="1.8"/>
<rect x="150.73" y="399.16" width="1.8" height="1.8"/>
<rect x="135.17" y="395.21" width="1.8" height="1.8"/>
<rect x="141.91" y="397.70" width="1.8" height="1.8"/>
<rect x="153.97" y="397.60" width="1.8" height="1.8"/>
<rect x="132.86" y="400.50" width="1.8" height="1.8"/>
<rect x="143.71" y="397.77" width="1.8" height="1.8"/>
<rect x="138.10" y="396.95" width="1.8" height="1.8"/>
<rect x="142.58" y="400.05" width="1.8" height="1.8"/>
<rect x="134.87" y="398.05" width="1.8" height="1.8"/>
<rect x="136.91" y="399.36" width="1.8" height="1.8"/>
<rect x="133.09" y="395.59" width="1.8" height="1.8"/>
<rect x="141.39" y="398.83" width="1.8" height="1.8"/>
<rect x="133.51" y="397.23" width="1.8" height="1.8"/>
<rect x="137.74" y="395.64" width="1.8" height="1.8"/>
<rect x="67.29" y="427.86" width="1.8" height="1.8"/>
<rect x="67.35" y="427.78" width="1.8" height="1.8"/>
<rect x="63.28" y="426.83" width="1.8" height="1.8"/>
<rect x="65.83" y="404.78" width="1.8" height="1.8"/>
<rect x="70.83" y="426.46" width="1.8" height="1.8"/>
<rect x="61.19" y="407.15" width="1.8" height="1.8"/>
<rect x="71.12" y="409.35" width="1.8" height="1.8"/>
<rect x="64.24" y="399.36" width="1.8" height="1.8"/>
<line x1="50.93" y1="477.50" x2="50.93" y2="473.50" stroke="#222" stroke-width="1"/>
<line x1="94.19" y1="477.50" x2="94.19" y2="473.50" stroke="#222" stroke-width="1"/>
<line x1="137.45" y1="477.50" x2="137.45" y2="473.50" stroke="#222" stroke-width="1"/>
<line x1="180.72" y1="477.50" x2="180.72" y2="473.50" stroke="#222" stroke-width="1"/>
<line x1="223.98" y1="477.50" x2="223.98" y2="473.50" stroke="#222" stroke-width="1"/>
<line x1="267.24" y1="477.50" x2="267.24" y2="473.50" stroke="#222" stroke-width="1"/>
<line x1="310.50" y1="477.50" x2="310.50" y2="473.50" stroke="#222" stroke-width="1"/>
<line x1="72.56" y1="477.50" x2="72.56" y2="475.50" stroke="#222" stroke-width="1"/>
<line x1="115.82" y1="477.50" x2="115.82" y2="475.50" stroke="#222" stroke-width="1"/>
<line x1="159.08" y1="477.50" x2="159.08" y2="475.50" stroke="#222" stroke-width="1"/>
<line x1="202.35" y1="477.50" x2="202.35" y2="475.50" stroke="#222" stroke-width="1"/>
<line x1="245.61" y1="477.50" x2="245.61" y2="475.50" stroke="#222" stroke-width="1"/>
<line x1="288.87" y1="477.50" x2="288.87" y2="475.50" stroke="#222" stroke-width="1"/>
<line x1="29.30" y1="461.63" x2="32.80" y2="461.63" stroke="#222" stroke-width="1"/>
<line x1="29.30" y1="429.89" x2="32.80" y2="429.89" stroke="#222" stroke-width="1"/>
<line x1="29.30" y1="398.15" x2="32.80" y2="398.15" stroke="#222" stroke-width="1"/>
<line x1="29.30" y1="366.42" x2="32.80" y2="366.42" stroke="#222" stroke-width="1"/>
<line x1="29.30" y1="334.68" x2="32.80" y2="334.68" stroke="#222" stroke-width="1"/>
<line x1="29.30" y1="302.94" x2="32.80" y2="302.94" stroke="#222" stroke-width="1"/>
<line x1="29.30" y1="271.20" x2="32.80" y2="271.20" stroke="#222" stroke-width="1"/>
<line x1="29.30" y1="477.50" x2="31.30" y2="477.50" stroke="#222" stroke-width="1"/>
<line x1="29.30" y1="445.76" x2="31.30" y2="445.76" stroke="#222" stroke-width="1"/>
<line x1="29.30" y1="414.02" x2="31.30" y2="414.02" stroke="#222" stroke-width="1"/>
<line x1="29.30" y1="382.28" x2="31.30" y2="382.28" stroke="#222" stroke-width="1"/>
<line x1="29.30" y1="350.55" x2="31.30" y2="350.55" stroke="#222" stroke-width="1"/>
<line x1="29.30" y1="318.81" x2="31.30" y2="318.81" stroke="#222" stroke-width="1"/>
<line x1="29.30" y1="287.07" x2="31.30" y2="287.07" stroke="#222" stroke-width="1"/>
<rect x="29.30" y="271.20" width="281.20" height="206.30" fill="none" stroke="#222" stroke-width="1.3"/>
<text transform="translate(50.93,491.20) scale(1,1.2)" font-family="Liberation Serif" font-size="11" text-anchor="middle" >0.0</text>
<text transform="translate(94.19,491.20) scale(1,1.2)" font-family="Liberation Serif" font-size="11" text-anchor="middle" >0.2</text>
<text transform="translate(137.45,491.20) scale(1,1.2)" font-family="Liberation Serif" font-size="11" text-anchor="middle" >0.4</text>
<text transform="translate(180.72,491.20) scale(1,1.2)" font-family="Liberation Serif" font-size="11" text-anchor="middle" >0.6</text>
<text transform="translate(223.98,491.20) scale(1,1.2)" font-family="Liberation Serif" font-size="11" text-anchor="middle" >0.8</text>
<text transform="translate(267.24,491.20) scale(1,1.2)" font-family="Liberation Serif" font-size="11" text-anchor="middle" >1.0</text>
<text transform="translate(310.50,491.20) scale(1,1.2)" font-family="Liberation Serif" font-size="11" text-anchor="middle" >1.2</text>
<text transform="translate(25.00,465.23) scale(1,1.2)" font-family="Liberation Serif" font-size="11" text-anchor="end" >-4</text>
<text transform="translate(25.00,433.49) scale(1,1.2)" font-family="Liberation Serif" font-size="11" text-anchor="end" >-2</text>
<text transform="translate(25.00,401.75) scale(1,1.2)" font-family="Liberation Serif" font-size="11" text-anchor="end" >0</text>
<text transform="translate(25.00,370.02) scale(1,1.2)" font-family="Liberation Serif" font-size="11" text-anchor="end" >2</text>
<text transform="translate(25.00,338.28) scale(1,1.2)" font-family="Liberation Serif" font-size="11" text-anchor="end" >4</text>
<text transform="translate(25.00,306.54) scale(1,1.2)" font-family="Liberation Serif" font-size="11" text-anchor="end" >6</text>
<text transform="translate(25.00,274.80) scale(1,1.2)" font-family="Liberation Serif" font-size="11" text-anchor="end" >8</text>
<text transform="translate(170.90,510.20) scale(1,1.2)" font-family="Liberation Serif" font-size="11" text-anchor="middle" >Strain</text>
<text transform="translate(9.50,379.00) rotate(-90) scale(1,1.2)" font-family="Liberation Serif" font-size="11" text-anchor="middle" >Standardised residual</text>
<text transform="translate(3.40,277.40) scale(1,1.0)" font-family="Liberation Sans" font-size="11" text-anchor="start" stroke="#000" stroke-width="0.15">c</text>
<line x1="31.40" y1="730.46" x2="313.10" y2="730.46" stroke="#c8c8c8" stroke-width="1"/>
<line x1="31.40" y1="700.97" x2="313.10" y2="700.97" stroke="#c8c8c8" stroke-width="1"/>
<line x1="31.40" y1="671.49" x2="313.10" y2="671.49" stroke="#c8c8c8" stroke-width="1"/>
<line x1="31.40" y1="642.00" x2="313.10" y2="642.00" stroke="#c8c8c8" stroke-width="1"/>
<line x1="31.40" y1="612.51" x2="313.10" y2="612.51" stroke="#c8c8c8" stroke-width="1"/>
<line x1="31.40" y1="583.03" x2="313.10" y2="583.03" stroke="#c8c8c8" stroke-width="1"/>
<line x1="31.40" y1="553.54" x2="313.10" y2="553.54" stroke="#c8c8c8" stroke-width="1"/>
<rect x="56.75" y="590.98" width="1.8" height="1.8"/>
<rect x="53.42" y="594.85" width="1.8" height="1.8"/>
<rect x="70.52" y="593.68" width="1.8" height="1.8"/>
<rect x="82.58" y="592.15" width="1.8" height="1.8"/>
<rect x="84.92" y="593.32" width="1.8" height="1.8"/>
<rect x="95.18" y="590.98" width="1.8" height="1.8"/>
<rect x="97.52" y="591.25" width="1.8" height="1.8"/>
<rect x="105.36" y="590.80" width="1.8" height="1.8"/>
<rect x="101.31" y="593.32" width="1.8" height="1.8"/>
<rect x="103.11" y="594.22" width="1.8" height="1.8"/>
<rect x="94.10" y="596.92" width="1.8" height="1.8"/>
<rect x="95.90" y="596.20" width="1.8" height="1.8"/>
<rect x="98.15" y="596.65" width="1.8" height="1.8"/>
<rect x="99.51" y="596.20" width="1.8" height="1.8"/>
<rect x="54.95" y="605.92" width="1.8" height="1.8"/>
<rect x="63.05" y="603.40" width="1.8" height="1.8"/>
<rect x="63.95" y="605.20" width="1.8" height="1.8"/>
<rect x="68.90" y="603.22" width="1.8" height="1.8"/>
<rect x="62.60" y="608.80" width="1.8" height="1.8"/>
<rect x="68.00" y="610.78" width="1.8" height="1.8"/>
<rect x="71.60" y="609.07" width="1.8" height="1.8"/>
<rect x="78.35" y="609.70" width="1.8" height="1.8"/>
<rect x="80.42" y="606.28" width="1.8" height="1.8"/>
<rect x="81.95" y="602.68" width="1.8" height="1.8"/>
<rect x="84.20" y="610.60" width="1.8" height="1.8"/>
<rect x="88.70" y="606.10" width="1.8" height="1.8"/>
<rect x="90.05" y="607.90" width="1.8" height="1.8"/>
<rect x="90.95" y="610.15" width="1.8" height="1.8"/>
<rect x="91.40" y="602.05" width="1.8" height="1.8"/>
<rect x="94.10" y="601.15" width="1.8" height="1.8"/>
<rect x="92.75" y="606.10" width="1.8" height="1.8"/>
<rect x="100.41" y="600.88" width="1.8" height="1.8"/>
<rect x="103.56" y="600.70" width="1.8" height="1.8"/>
<rect x="104.91" y="602.50" width="1.8" height="1.8"/>
<rect x="99.05" y="606.10" width="1.8" height="1.8"/>
<rect x="100.86" y="605.20" width="1.8" height="1.8"/>
<rect x="103.11" y="605.65" width="1.8" height="1.8"/>
<rect x="95.90" y="610.60" width="1.8" height="1.8"/>
<rect x="95.45" y="613.75" width="1.8" height="1.8"/>
<rect x="97.70" y="613.75" width="1.8" height="1.8"/>
<rect x="101.76" y="612.85" width="1.8" height="1.8"/>
<rect x="105.81" y="614.20" width="1.8" height="1.8"/>
<rect x="65.75" y="614.20" width="1.8" height="1.8"/>
<rect x="62.15" y="616.45" width="1.8" height="1.8"/>
<rect x="62.60" y="618.70" width="1.8" height="1.8"/>
<rect x="67.10" y="617.80" width="1.8" height="1.8"/>
<rect x="65.30" y="620.50" width="1.8" height="1.8"/>
<rect x="64.85" y="622.30" width="1.8" height="1.8"/>
<rect x="72.05" y="615.55" width="1.8" height="1.8"/>
<rect x="77.45" y="615.55" width="1.8" height="1.8"/>
<rect x="79.25" y="615.10" width="1.8" height="1.8"/>
<rect x="81.50" y="615.10" width="1.8" height="1.8"/>
<rect x="83.30" y="616.45" width="1.8" height="1.8"/>
<rect x="86.00" y="616.00" width="1.8" height="1.8"/>
<rect x="87.80" y="614.65" width="1.8" height="1.8"/>
<rect x="90.95" y="612.85" width="1.8" height="1.8"/>
<rect x="79.25" y="618.70" width="1.8" height="1.8"/>
<rect x="86.00" y="619.15" width="1.8" height="1.8"/>
<rect x="83.30" y="622.30" width="1.8" height="1.8"/>
<rect x="86.90" y="622.75" width="1.8" height="1.8"/>
<rect x="82.85" y="625.90" width="1.8" height="1.8"/>
<rect x="84.65" y="626.35" width="1.8" height="1.8"/>
<rect x="93.20" y="625.00" width="1.8" height="1.8"/>
<rect x="97.70" y="618.70" width="1.8" height="1.8"/>
<rect x="98.15" y="623.20" width="1.8" height="1.8"/>
<rect x="57.92" y="625.45" width="1.8" height="1.8"/>
<rect x="59.90" y="628.60" width="1.8" height="1.8"/>
<rect x="63.32" y="624.55" width="1.8" height="1.8"/>
<rect x="69.80" y="626.80" width="1.8" height="1.8"/>
<rect x="69.98" y="629.05" width="1.8" height="1.8"/>
<rect x="80.60" y="629.05" width="1.8" height="1.8"/>
<rect x="85.10" y="632.66" width="1.8" height="1.8"/>
<rect x="77.90" y="633.11" width="1.8" height="1.8"/>
<rect x="93.20" y="631.31" width="1.8" height="1.8"/>
<rect x="96.35" y="627.70" width="1.8" height="1.8"/>
<rect x="99.51" y="630.86" width="1.8" height="1.8"/>
<rect x="102.21" y="629.05" width="1.8" height="1.8"/>
<rect x="104.01" y="625.45" width="1.8" height="1.8"/>
<rect x="106.26" y="628.15" width="1.8" height="1.8"/>
<rect x="104.46" y="633.11" width="1.8" height="1.8"/>
<rect x="106.71" y="634.01" width="1.8" height="1.8"/>
<rect x="69.80" y="634.01" width="1.8" height="1.8"/>
<rect x="68.45" y="636.26" width="1.8" height="1.8"/>
<rect x="67.10" y="638.06" width="1.8" height="1.8"/>
<rect x="70.25" y="637.61" width="1.8" height="1.8"/>
<rect x="77.90" y="636.26" width="1.8" height="1.8"/>
<rect x="80.15" y="637.61" width="1.8" height="1.8"/>
<rect x="78.35" y="639.86" width="1.8" height="1.8"/>
<rect x="87.80" y="638.96" width="1.8" height="1.8"/>
<rect x="91.85" y="634.91" width="1.8" height="1.8"/>
<rect x="94.10" y="636.71" width="1.8" height="1.8"/>
<rect x="71.60" y="642.56" width="1.8" height="1.8"/>
<rect x="74.75" y="641.66" width="1.8" height="1.8"/>
<rect x="80.15" y="642.56" width="1.8" height="1.8"/>
<rect x="78.35" y="644.36" width="1.8" height="1.8"/>
<rect x="86.90" y="643.01" width="1.8" height="1.8"/>
<rect x="97.70" y="642.11" width="1.8" height="1.8"/>
<rect x="100.41" y="640.76" width="1.8" height="1.8"/>
<rect x="103.11" y="640.13" width="1.8" height="1.8"/>
<rect x="64.85" y="648.00" width="1.8" height="1.8"/>
<rect x="64.85" y="649.62" width="1.8" height="1.8"/>
<rect x="84.65" y="647.82" width="1.8" height="1.8"/>
<rect x="86.90" y="648.90" width="1.8" height="1.8"/>
<rect x="93.65" y="648.90" width="1.8" height="1.8"/>
<rect x="79.88" y="650.88" width="1.8" height="1.8"/>
<rect x="89.15" y="651.60" width="1.8" height="1.8"/>
<rect x="66.20" y="654.30" width="1.8" height="1.8"/>
<rect x="67.10" y="655.65" width="1.8" height="1.8"/>
<rect x="65.75" y="656.55" width="1.8" height="1.8"/>
<rect x="68.00" y="656.10" width="1.8" height="1.8"/>
<rect x="71.60" y="655.20" width="1.8" height="1.8"/>
<rect x="73.85" y="654.12" width="1.8" height="1.8"/>
<rect x="75.65" y="653.22" width="1.8" height="1.8"/>
<rect x="76.10" y="655.92" width="1.8" height="1.8"/>
<rect x="65.30" y="659.70" width="1.8" height="1.8"/>
<rect x="71.60" y="659.70" width="1.8" height="1.8"/>
<rect x="78.80" y="658.98" width="1.8" height="1.8"/>
<rect x="81.95" y="658.62" width="1.8" height="1.8"/>
<rect x="90.95" y="658.08" width="1.8" height="1.8"/>
<rect x="101.76" y="657.45" width="1.8" height="1.8"/>
<rect x="106.71" y="656.10" width="1.8" height="1.8"/>
<rect x="68.45" y="662.22" width="1.8" height="1.8"/>
<rect x="71.60" y="663.75" width="1.8" height="1.8"/>
<rect x="72.68" y="663.30" width="1.8" height="1.8"/>
<rect x="76.10" y="664.20" width="1.8" height="1.8"/>
<rect x="88.70" y="666.00" width="1.8" height="1.8"/>
<rect x="90.50" y="665.55" width="1.8" height="1.8"/>
<rect x="95.00" y="665.82" width="1.8" height="1.8"/>
<rect x="96.35" y="662.85" width="1.8" height="1.8"/>
<rect x="68.45" y="666.72" width="1.8" height="1.8"/>
<rect x="72.68" y="667.80" width="1.8" height="1.8"/>
<rect x="78.80" y="666.90" width="1.8" height="1.8"/>
<rect x="66.20" y="669.60" width="1.8" height="1.8"/>
<rect x="69.35" y="670.50" width="1.8" height="1.8"/>
<rect x="77.00" y="669.42" width="1.8" height="1.8"/>
<rect x="80.15" y="669.60" width="1.8" height="1.8"/>
<rect x="103.56" y="670.68" width="1.8" height="1.8"/>
<rect x="82.40" y="673.02" width="1.8" height="1.8"/>
<rect x="73.40" y="673.92" width="1.8" height="1.8"/>
<rect x="75.20" y="674.10" width="1.8" height="1.8"/>
<rect x="76.10" y="677.25" width="1.8" height="1.8"/>
<rect x="84.20" y="678.15" width="1.8" height="1.8"/>
<rect x="86.45" y="678.60" width="1.8" height="1.8"/>
<rect x="95.45" y="678.60" width="1.8" height="1.8"/>
<rect x="72.50" y="679.05" width="1.8" height="1.8"/>
<rect x="70.70" y="680.40" width="1.8" height="1.8"/>
<rect x="69.80" y="681.75" width="1.8" height="1.8"/>
<rect x="70.70" y="683.55" width="1.8" height="1.8"/>
<rect x="81.95" y="681.12" width="1.8" height="1.8"/>
<rect x="81.50" y="684.45" width="1.8" height="1.8"/>
<rect x="82.85" y="683.55" width="1.8" height="1.8"/>
<rect x="90.05" y="682.92" width="1.8" height="1.8"/>
<rect x="68.90" y="686.70" width="1.8" height="1.8"/>
<rect x="73.85" y="686.52" width="1.8" height="1.8"/>
<rect x="77.00" y="684.90" width="1.8" height="1.8"/>
<rect x="78.35" y="686.25" width="1.8" height="1.8"/>
<rect x="72.95" y="690.75" width="1.8" height="1.8"/>
<rect x="73.22" y="692.10" width="1.8" height="1.8"/>
<rect x="77.90" y="692.10" width="1.8" height="1.8"/>
<rect x="92.30" y="693.00" width="1.8" height="1.8"/>
<rect x="85.55" y="695.25" width="1.8" height="1.8"/>
<rect x="67.10" y="695.25" width="1.8" height="1.8"/>
<rect x="67.55" y="696.60" width="1.8" height="1.8"/>
<rect x="78.80" y="695.70" width="1.8" height="1.8"/>
<rect x="77.00" y="696.42" width="1.8" height="1.8"/>
<rect x="74.75" y="698.41" width="1.8" height="1.8"/>
<rect x="75.20" y="699.31" width="1.8" height="1.8"/>
<rect x="76.10" y="700.66" width="1.8" height="1.8"/>
<rect x="75.20" y="703.99" width="1.8" height="1.8"/>
<rect x="74.12" y="706.96" width="1.8" height="1.8"/>
<rect x="80.42" y="711.19" width="1.8" height="1.8"/>
<rect x="77.18" y="713.89" width="1.8" height="1.8"/>
<rect x="133.63" y="589.76" width="1.8" height="1.8"/>
<rect x="108.95" y="595.62" width="1.8" height="1.8"/>
<rect x="111.01" y="596.95" width="1.8" height="1.8"/>
<rect x="110.39" y="604.46" width="1.8" height="1.8"/>
<rect x="147.72" y="601.58" width="1.8" height="1.8"/>
<rect x="152.86" y="604.97" width="1.8" height="1.8"/>
<rect x="107.61" y="610.84" width="1.8" height="1.8"/>
<rect x="110.70" y="609.29" width="1.8" height="1.8"/>
<rect x="112.24" y="608.98" width="1.8" height="1.8"/>
<rect x="116.56" y="607.75" width="1.8" height="1.8"/>
<rect x="133.84" y="610.84" width="1.8" height="1.8"/>
<rect x="129.93" y="612.69" width="1.8" height="1.8"/>
<rect x="111.73" y="614.13" width="1.8" height="1.8"/>
<rect x="116.15" y="613.41" width="1.8" height="1.8"/>
<rect x="119.44" y="615.15" width="1.8" height="1.8"/>
<rect x="135.07" y="619.27" width="1.8" height="1.8"/>
<rect x="136.41" y="622.15" width="1.8" height="1.8"/>
<rect x="111.21" y="620.91" width="1.8" height="1.8"/>
<rect x="113.06" y="622.66" width="1.8" height="1.8"/>
<rect x="129.21" y="622.35" width="1.8" height="1.8"/>
<rect x="111.42" y="626.47" width="1.8" height="1.8"/>
<rect x="114.30" y="626.26" width="1.8" height="1.8"/>
<rect x="115.33" y="625.03" width="1.8" height="1.8"/>
<rect x="117.90" y="626.77" width="1.8" height="1.8"/>
<rect x="126.64" y="626.05" width="1.8" height="1.8"/>
<rect x="133.01" y="626.47" width="1.8" height="1.8"/>
<rect x="156.97" y="624.72" width="1.8" height="1.8"/>
<rect x="158.31" y="625.23" width="1.8" height="1.8"/>
<rect x="111.73" y="630.37" width="1.8" height="1.8"/>
<rect x="113.78" y="630.89" width="1.8" height="1.8"/>
<rect x="123.35" y="631.91" width="1.8" height="1.8"/>
<rect x="129.93" y="633.66" width="1.8" height="1.8"/>
<rect x="132.29" y="632.94" width="1.8" height="1.8"/>
<rect x="157.28" y="631.91" width="1.8" height="1.8"/>
<rect x="107.61" y="634.28" width="1.8" height="1.8"/>
<rect x="117.38" y="635.00" width="1.8" height="1.8"/>
<rect x="111.21" y="636.54" width="1.8" height="1.8"/>
<rect x="110.39" y="638.39" width="1.8" height="1.8"/>
<rect x="123.35" y="638.39" width="1.8" height="1.8"/>
<rect x="148.23" y="635.51" width="1.8" height="1.8"/>
<rect x="153.89" y="633.46" width="1.8" height="1.8"/>
<rect x="153.89" y="636.03" width="1.8" height="1.8"/>
<rect x="152.86" y="638.39" width="1.8" height="1.8"/>
<rect x="143.09" y="638.60" width="1.8" height="1.8"/>
<rect x="140.21" y="640.14" width="1.8" height="1.8"/>
<rect x="150.80" y="640.86" width="1.8" height="1.8"/>
<rect x="146.17" y="641.89" width="1.8" height="1.8"/>
<rect x="143.09" y="642.92" width="1.8" height="1.8"/>
<rect x="120.98" y="641.68" width="1.8" height="1.8"/>
<rect x="120.47" y="643.23" width="1.8" height="1.8"/>
<rect x="114.30" y="643.95" width="1.8" height="1.8"/>
<rect x="159.75" y="642.92" width="1.8" height="1.8"/>
<rect x="121.50" y="646.62" width="1.8" height="1.8"/>
<rect x="126.12" y="647.34" width="1.8" height="1.8"/>
<rect x="132.29" y="645.59" width="1.8" height="1.8"/>
<rect x="141.24" y="646.00" width="1.8" height="1.8"/>
<rect x="143.09" y="647.65" width="1.8" height="1.8"/>
<rect x="149.26" y="646.62" width="1.8" height="1.8"/>
<rect x="161.60" y="647.85" width="1.8" height="1.8"/>
<rect x="109.67" y="649.40" width="1.8" height="1.8"/>
<rect x="114.30" y="649.91" width="1.8" height="1.8"/>
<rect x="117.38" y="648.88" width="1.8" height="1.8"/>
<rect x="129.21" y="651.97" width="1.8" height="1.8"/>
<rect x="136.92" y="654.02" width="1.8" height="1.8"/>
<rect x="140.00" y="655.57" width="1.8" height="1.8"/>
<rect x="146.17" y="652.99" width="1.8" height="1.8"/>
<rect x="149.77" y="655.57" width="1.8" height="1.8"/>
<rect x="144.63" y="656.59" width="1.8" height="1.8"/>
<rect x="123.04" y="656.08" width="1.8" height="1.8"/>
<rect x="125.61" y="659.68" width="1.8" height="1.8"/>
<rect x="118.93" y="661.02" width="1.8" height="1.8"/>
<rect x="135.89" y="659.16" width="1.8" height="1.8"/>
<rect x="137.43" y="660.19" width="1.8" height="1.8"/>
<rect x="138.46" y="660.19" width="1.8" height="1.8"/>
<rect x="161.39" y="659.99" width="1.8" height="1.8"/>
<rect x="107.61" y="660.71" width="1.8" height="1.8"/>
<rect x="140.00" y="663.48" width="1.8" height="1.8"/>
<rect x="152.86" y="663.07" width="1.8" height="1.8"/>
<rect x="156.46" y="663.79" width="1.8" height="1.8"/>
<rect x="162.96" y="632.79" width="1.8" height="1.8"/>
<rect x="166.81" y="635.87" width="1.8" height="1.8"/>
<rect x="162.18" y="645.13" width="1.8" height="1.8"/>
<rect x="163.73" y="652.84" width="1.8" height="1.8"/>
<rect x="167.33" y="648.73" width="1.8" height="1.8"/>
<rect x="166.30" y="622.51" width="1.8" height="1.8"/>
<rect x="169.90" y="621.22" width="1.8" height="1.8"/>
<rect x="173.50" y="619.16" width="1.8" height="1.8"/>
<rect x="169.38" y="661.07" width="1.8" height="1.8"/>
<rect x="169.90" y="664.15" width="1.8" height="1.8"/>
<rect x="173.24" y="666.21" width="1.8" height="1.8"/>
<rect x="168.87" y="675.98" width="1.8" height="1.8"/>
<rect x="171.95" y="671.86" width="1.8" height="1.8"/>
<rect x="176.58" y="670.84" width="1.8" height="1.8"/>
<rect x="177.61" y="674.43" width="1.8" height="1.8"/>
<rect x="177.87" y="667.49" width="1.8" height="1.8"/>
<rect x="177.09" y="644.36" width="1.8" height="1.8"/>
<rect x="176.07" y="654.64" width="1.8" height="1.8"/>
<rect x="171.95" y="691.14" width="1.8" height="1.8"/>
<rect x="179.15" y="693.20" width="1.8" height="1.8"/>
<rect x="180.44" y="690.63" width="1.8" height="1.8"/>
<rect x="179.67" y="627.90" width="1.8" height="1.8"/>
<rect x="184.55" y="633.56" width="1.8" height="1.8"/>
<rect x="186.35" y="625.85" width="1.8" height="1.8"/>
<rect x="187.89" y="628.93" width="1.8" height="1.8"/>
<rect x="184.81" y="654.64" width="1.8" height="1.8"/>
<rect x="186.61" y="655.41" width="1.8" height="1.8"/>
<rect x="189.43" y="651.30" width="1.8" height="1.8"/>
<rect x="184.81" y="666.21" width="1.8" height="1.8"/>
<rect x="186.09" y="681.12" width="1.8" height="1.8"/>
<rect x="188.92" y="685.75" width="1.8" height="1.8"/>
<rect x="190.72" y="669.04" width="1.8" height="1.8"/>
<rect x="192.78" y="660.04" width="1.8" height="1.8"/>
<rect x="194.58" y="623.28" width="1.8" height="1.8"/>
<rect x="195.09" y="626.36" width="1.8" height="1.8"/>
<rect x="195.35" y="629.96" width="1.8" height="1.8"/>
<rect x="197.66" y="633.82" width="1.8" height="1.8"/>
<rect x="197.15" y="636.13" width="1.8" height="1.8"/>
<rect x="195.09" y="646.93" width="1.8" height="1.8"/>
<rect x="195.86" y="643.84" width="1.8" height="1.8"/>
<rect x="198.17" y="677.26" width="1.8" height="1.8"/>
<rect x="201.77" y="607.08" width="1.8" height="1.8"/>
<rect x="202.80" y="618.65" width="1.8" height="1.8"/>
<rect x="204.09" y="637.16" width="1.8" height="1.8"/>
<rect x="205.63" y="641.79" width="1.8" height="1.8"/>
<rect x="205.37" y="663.12" width="1.8" height="1.8"/>
<rect x="202.80" y="668.26" width="1.8" height="1.8"/>
<rect x="204.34" y="670.84" width="1.8" height="1.8"/>
<rect x="206.66" y="675.21" width="1.8" height="1.8"/>
<rect x="207.94" y="668.78" width="1.8" height="1.8"/>
<rect x="209.23" y="687.54" width="1.8" height="1.8"/>
<rect x="208.20" y="696.54" width="1.8" height="1.8"/>
<rect x="210.00" y="610.94" width="1.8" height="1.8"/>
<rect x="210.00" y="627.90" width="1.8" height="1.8"/>
<rect x="212.06" y="653.10" width="1.8" height="1.8"/>
<rect x="213.08" y="658.75" width="1.8" height="1.8"/>
<rect x="215.66" y="620.96" width="1.8" height="1.8"/>
<rect x="216.17" y="637.16" width="1.8" height="1.8"/>
<rect x="216.94" y="629.70" width="1.8" height="1.8"/>
<rect x="217.71" y="597.06" width="1.8" height="1.8"/>
<rect x="219.00" y="659.78" width="1.8" height="1.8"/>
<rect x="223.11" y="609.14" width="1.8" height="1.8"/>
<rect x="223.88" y="612.99" width="1.8" height="1.8"/>
<rect x="225.17" y="598.08" width="1.8" height="1.8"/>
<rect x="233.14" y="613.51" width="1.8" height="1.8"/>
<rect x="235.71" y="618.91" width="1.8" height="1.8"/>
<rect x="231.08" y="644.36" width="1.8" height="1.8"/>
<rect x="230.82" y="657.21" width="1.8" height="1.8"/>
<rect x="236.22" y="700.91" width="1.8" height="1.8"/>
<rect x="242.13" y="671.09" width="1.8" height="1.8"/>
<rect x="242.13" y="648.73" width="1.8" height="1.8"/>
<rect x="244.19" y="642.81" width="1.8" height="1.8"/>
<rect x="253.19" y="650.78" width="1.8" height="1.8"/>
<rect x="253.70" y="647.70" width="1.8" height="1.8"/>
<rect x="256.27" y="647.18" width="1.8" height="1.8"/>
<rect x="264.50" y="635.62" width="1.8" height="1.8"/>
<rect x="265.01" y="629.96" width="1.8" height="1.8"/>
<rect x="268.10" y="592.69" width="1.8" height="1.8"/>
<rect x="271.18" y="621.73" width="1.8" height="1.8"/>
<rect x="276.84" y="612.22" width="1.8" height="1.8"/>
<rect x="277.87" y="634.85" width="1.8" height="1.8"/>
<rect x="281.21" y="641.02" width="1.8" height="1.8"/>
<rect x="281.47" y="601.43" width="1.8" height="1.8"/>
<rect x="284.29" y="591.66" width="1.8" height="1.8"/>
<rect x="75.70" y="723.00" width="1.8" height="1.8"/>
<rect x="90.00" y="573.50" width="1.8" height="1.8"/>
<rect x="92.80" y="578.80" width="1.8" height="1.8"/>
<rect x="52.70" y="560.00" width="1.8" height="1.8"/>
<rect x="116.00" y="554.90" width="1.8" height="1.8"/>
<rect x="113.40" y="568.00" width="1.8" height="1.8"/>
<rect x="124.20" y="577.00" width="1.8" height="1.8"/>
<rect x="137.10" y="580.90" width="1.8" height="1.8"/>
<rect x="108.10" y="675.10" width="1.8" height="1.8"/>
<rect x="109.10" y="679.10" width="1.8" height="1.8"/>
<rect x="127.10" y="678.10" width="1.8" height="1.8"/>
<rect x="127.10" y="681.10" width="1.8" height="1.8"/>
<rect x="127.10" y="692.10" width="1.8" height="1.8"/>
<rect x="119.10" y="699.10" width="1.8" height="1.8"/>
<rect x="130.10" y="672.10" width="1.8" height="1.8"/>
<rect x="139.10" y="667.10" width="1.8" height="1.8"/>
<rect x="146.10" y="671.10" width="1.8" height="1.8"/>
<line x1="53.07" y1="745.20" x2="53.07" y2="741.20" stroke="#222" stroke-width="1"/>
<line x1="96.41" y1="745.20" x2="96.41" y2="741.20" stroke="#222" stroke-width="1"/>
<line x1="139.75" y1="745.20" x2="139.75" y2="741.20" stroke="#222" stroke-width="1"/>
<line x1="183.08" y1="745.20" x2="183.08" y2="741.20" stroke="#222" stroke-width="1"/>
<line x1="226.42" y1="745.20" x2="226.42" y2="741.20" stroke="#222" stroke-width="1"/>
<line x1="269.76" y1="745.20" x2="269.76" y2="741.20" stroke="#222" stroke-width="1"/>
<line x1="313.10" y1="745.20" x2="313.10" y2="741.20" stroke="#222" stroke-width="1"/>
<line x1="74.74" y1="745.20" x2="74.74" y2="743.20" stroke="#222" stroke-width="1"/>
<line x1="118.08" y1="745.20" x2="118.08" y2="743.20" stroke="#222" stroke-width="1"/>
<line x1="161.42" y1="745.20" x2="161.42" y2="743.20" stroke="#222" stroke-width="1"/>
<line x1="204.75" y1="745.20" x2="204.75" y2="743.20" stroke="#222" stroke-width="1"/>
<line x1="248.09" y1="745.20" x2="248.09" y2="743.20" stroke="#222" stroke-width="1"/>
<line x1="291.43" y1="745.20" x2="291.43" y2="743.20" stroke="#222" stroke-width="1"/>
<line x1="31.40" y1="730.46" x2="34.90" y2="730.46" stroke="#222" stroke-width="1"/>
<line x1="31.40" y1="700.97" x2="34.90" y2="700.97" stroke="#222" stroke-width="1"/>
<line x1="31.40" y1="671.49" x2="34.90" y2="671.49" stroke="#222" stroke-width="1"/>
<line x1="31.40" y1="642.00" x2="34.90" y2="642.00" stroke="#222" stroke-width="1"/>
<line x1="31.40" y1="612.51" x2="34.90" y2="612.51" stroke="#222" stroke-width="1"/>
<line x1="31.40" y1="583.03" x2="34.90" y2="583.03" stroke="#222" stroke-width="1"/>
<line x1="31.40" y1="553.54" x2="34.90" y2="553.54" stroke="#222" stroke-width="1"/>
<line x1="31.40" y1="745.20" x2="33.40" y2="745.20" stroke="#222" stroke-width="1"/>
<line x1="31.40" y1="715.71" x2="33.40" y2="715.71" stroke="#222" stroke-width="1"/>
<line x1="31.40" y1="686.23" x2="33.40" y2="686.23" stroke="#222" stroke-width="1"/>
<line x1="31.40" y1="656.74" x2="33.40" y2="656.74" stroke="#222" stroke-width="1"/>
<line x1="31.40" y1="627.26" x2="33.40" y2="627.26" stroke="#222" stroke-width="1"/>
<line x1="31.40" y1="597.77" x2="33.40" y2="597.77" stroke="#222" stroke-width="1"/>
<line x1="31.40" y1="568.29" x2="33.40" y2="568.29" stroke="#222" stroke-width="1"/>
<rect x="31.40" y="538.80" width="281.70" height="206.40" fill="none" stroke="#222" stroke-width="1.3"/>
<text transform="translate(53.07,759.20) scale(1,1.2)" font-family="Liberation Serif" font-size="11" text-anchor="middle" >0.0</text>
<text transform="translate(96.41,759.20) scale(1,1.2)" font-family="Liberation Serif" font-size="11" text-anchor="middle" >0.2</text>
<text transform="translate(139.75,759.20) scale(1,1.2)" font-family="Liberation Serif" font-size="11" text-anchor="middle" >0.4</text>
<text transform="translate(183.08,759.20) scale(1,1.2)" font-family="Liberation Serif" font-size="11" text-anchor="middle" >0.6</text>
<text transform="translate(226.42,759.20) scale(1,1.2)" font-family="Liberation Serif" font-size="11" text-anchor="middle" >0.8</text>
<text transform="translate(269.76,759.20) scale(1,1.2)" font-family="Liberation Serif" font-size="11" text-anchor="middle" >1.0</text>
<text transform="translate(313.10,759.20) scale(1,1.2)" font-family="Liberation Serif" font-size="11" text-anchor="middle" >1.2</text>
<text transform="translate(27.00,734.06) scale(1,1.2)" font-family="Liberation Serif" font-size="11" text-anchor="end" >-3</text>
<text transform="translate(27.00,704.57) scale(1,1.2)" font-family="Liberation Serif" font-size="11" text-anchor="end" >-2</text>
<text transform="translate(27.00,675.09) scale(1,1.2)" font-family="Liberation Serif" font-size="11" text-anchor="end" >-1</text>
<text transform="translate(27.00,645.60) scale(1,1.2)" font-family="Liberation Serif" font-size="11" text-anchor="end" >0</text>
<text transform="translate(27.00,616.11) scale(1,1.2)" font-family="Liberation Serif" font-size="11" text-anchor="end" >1</text>
<text transform="translate(27.00,586.63) scale(1,1.2)" font-family="Liberation Serif" font-size="11" text-anchor="end" >2</text>
<text transform="translate(27.00,557.14) scale(1,1.2)" font-family="Liberation Serif" font-size="11" text-anchor="end" >3</text>
<text transform="translate(172.00,778.00) scale(1,1.2)" font-family="Liberation Serif" font-size="11" text-anchor="middle" >Strain</text>
<text transform="translate(11.50,649.00) rotate(-90) scale(1,1.2)" font-family="Liberation Serif" font-size="11" text-anchor="middle" >Standardised residual</text>
<text transform="translate(4.40,544.70) scale(1,1.0)" font-family="Liberation Sans" font-size="11" text-anchor="start" stroke="#000" stroke-width="0.15">e</text>
<clipPath id="hc1"><rect x="429.03" y="210.70" width="8.87" height="3.50"/><rect x="437.89" y="207.19" width="8.87" height="7.01"/><rect x="446.76" y="207.19" width="8.87" height="7.01"/><rect x="455.62" y="179.17" width="8.87" height="35.03"/><rect x="464.49" y="168.66" width="8.87" height="45.54"/><rect x="473.36" y="151.14" width="8.87" height="63.06"/><rect x="482.22" y="151.14" width="8.87" height="63.06"/><rect x="491.09" y="112.60" width="8.87" height="101.60"/><rect x="499.95" y="126.62" width="8.87" height="87.58"/><rect x="508.82" y="28.52" width="8.87" height="185.68"/><rect x="517.68" y="70.56" width="8.87" height="143.64"/><rect x="526.55" y="21.52" width="8.87" height="192.68"/><rect x="535.42" y="84.58" width="8.87" height="129.62"/><rect x="544.28" y="102.09" width="8.87" height="112.11"/><rect x="553.15" y="147.64" width="8.87" height="66.56"/><rect x="562.01" y="151.14" width="8.87" height="63.06"/><rect x="570.88" y="179.17" width="8.87" height="35.03"/><rect x="579.74" y="182.67" width="8.87" height="31.53"/><rect x="588.61" y="200.19" width="8.87" height="14.01"/><rect x="597.48" y="207.19" width="8.87" height="7.01"/><rect x="606.34" y="207.19" width="8.87" height="7.01"/><rect x="615.21" y="207.19" width="8.87" height="7.01"/><rect x="624.07" y="210.70" width="8.87" height="3.50"/></clipPath>
<rect x="429.03" y="210.70" width="8.87" height="3.50" fill="#fff"/>
<rect x="437.89" y="207.19" width="8.87" height="7.01" fill="#fff"/>
<rect x="446.76" y="207.19" width="8.87" height="7.01" fill="#fff"/>
<rect x="455.62" y="179.17" width="8.87" height="35.03" fill="#fff"/>
<rect x="464.49" y="168.66" width="8.87" height="45.54" fill="#fff"/>
<rect x="473.36" y="151.14" width="8.87" height="63.06" fill="#fff"/>
<rect x="482.22" y="151.14" width="8.87" height="63.06" fill="#fff"/>
<rect x="491.09" y="112.60" width="8.87" height="101.60" fill="#fff"/>
<rect x="499.95" y="126.62" width="8.87" height="87.58" fill="#fff"/>
<rect x="508.82" y="28.52" width="8.87" height="185.68" fill="#fff"/>
<rect x="517.68" y="70.56" width="8.87" height="143.64" fill="#fff"/>
<rect x="526.55" y="21.52" width="8.87" height="192.68" fill="#fff"/>
<rect x="535.42" y="84.58" width="8.87" height="129.62" fill="#fff"/>
<rect x="544.28" y="102.09" width="8.87" height="112.11" fill="#fff"/>
<rect x="553.15" y="147.64" width="8.87" height="66.56" fill="#fff"/>
<rect x="562.01" y="151.14" width="8.87" height="63.06" fill="#fff"/>
<rect x="570.88" y="179.17" width="8.87" height="35.03" fill="#fff"/>
<rect x="579.74" y="182.67" width="8.87" height="31.53" fill="#fff"/>
<rect x="588.61" y="200.19" width="8.87" height="14.01" fill="#fff"/>
<rect x="597.48" y="207.19" width="8.87" height="7.01" fill="#fff"/>
<rect x="606.34" y="207.19" width="8.87" height="7.01" fill="#fff"/>
<rect x="615.21" y="207.19" width="8.87" height="7.01" fill="#fff"/>
<rect x="624.07" y="210.70" width="8.87" height="3.50" fill="#fff"/>
<path clip-path="url(#hc1)" d="M371.40,-269.60L681.70,0.36M371.40,-266.00L681.70,3.96M371.40,-262.40L681.70,7.56M371.40,-258.80L681.70,11.16M371.40,-255.20L681.70,14.76M371.40,-251.60L681.70,18.36M371.40,-248.00L681.70,21.96M371.40,-244.40L681.70,25.56M371.40,-240.80L681.70,29.16M371.40,-237.20L681.70,32.76M371.40,-233.60L681.70,36.36M371.40,-230.00L681.70,39.96M371.40,-226.40L681.70,43.56M371.40,-222.80L681.70,47.16M371.40,-219.20L681.70,50.76M371.40,-215.60L681.70,54.36M371.40,-212.00L681.70,57.96M371.40,-208.40L681.70,61.56M371.40,-204.80L681.70,65.16M371.40,-201.20L681.70,68.76M371.40,-197.60L681.70,72.36M371.40,-194.00L681.70,75.96M371.40,-190.40L681.70,79.56M371.40,-186.80L681.70,83.16M371.40,-183.20L681.70,86.76M371.40,-179.60L681.70,90.36M371.40,-176.00L681.70,93.96M371.40,-172.40L681.70,97.56M371.40,-168.80L681.70,101.16M371.40,-165.20L681.70,104.76M371.40,-161.60L681.70,108.36M371.40,-158.00L681.70,111.96M371.40,-154.40L681.70,115.56M371.40,-150.80L681.70,119.16M371.40,-147.20L681.70,122.76M371.40,-143.60L681.70,126.36M371.40,-140.00L681.70,129.96M371.40,-136.40L681.70,133.56M371.40,-132.80L681.70,137.16M371.40,-129.20L681.70,140.76M371.40,-125.60L681.70,144.36M371.40,-122.00L681.70,147.96M371.40,-118.40L681.70,151.56M371.40,-114.80L681.70,155.16M371.40,-111.20L681.70,158.76M371.40,-107.60L681.70,162.36M371.40,-104.00L681.70,165.96M371.40,-100.40L681.70,169.56M371.40,-96.80L681.70,173.16M371.40,-93.20L681.70,176.76M371.40,-89.60L681.70,180.36M371.40,-86.00L681.70,183.96M371.40,-82.40L681.70,187.56M371.40,-78.80L681.70,191.16M371.40,-75.20L681.70,194.76M371.40,-71.60L681.70,198.36M371.40,-68.00L681.70,201.96M371.40,-64.40L681.70,205.56M371.40,-60.80L681.70,209.16M371.40,-57.20L681.70,212.76M371.40,-53.60L681.70,216.36M371.40,-50.00L681.70,219.96M371.40,-46.40L681.70,223.56M371.40,-42.80L681.70,227.16M371.40,-39.20L681.70,230.76M371.40,-35.60L681.70,234.36M371.40,-32.00L681.70,237.96M371.40,-28.40L681.70,241.56M371.40,-24.80L681.70,245.16M371.40,-21.20L681.70,248.76M371.40,-17.60L681.70,252.36M371.40,-14.00L681.70,255.96M371.40,-10.40L681.70,259.56M371.40,-6.80L681.70,263.16M371.40,-3.20L681.70,266.76M371.40,0.40L681.70,270.36M371.40,4.00L681.70,273.96M371.40,7.60L681.70,277.56M371.40,11.20L681.70,281.16M371.40,14.80L681.70,284.76M371.40,18.40L681.70,288.36M371.40,22.00L681.70,291.96M371.40,25.60L681.70,295.56M371.40,29.20L681.70,299.16M371.40,32.80L681.70,302.76M371.40,36.40L681.70,306.36M371.40,40.00L681.70,309.96M371.40,43.60L681.70,313.56M371.40,47.20L681.70,317.16M371.40,50.80L681.70,320.76M371.40,54.40L681.70,324.36M371.40,58.00L681.70,327.96M371.40,61.60L681.70,331.56M371.40,65.20L681.70,335.16M371.40,68.80L681.70,338.76M371.40,72.40L681.70,342.36M371.40,76.00L681.70,345.96M371.40,79.60L681.70,349.56M371.40,83.20L681.70,353.16M371.40,86.80L681.70,356.76M371.40,90.40L681.70,360.36M371.40,94.00L681.70,363.96M371.40,97.60L681.70,367.56M371.40,101.20L681.70,371.16M371.40,104.80L681.70,374.76M371.40,108.40L681.70,378.36M371.40,112.00L681.70,381.96M371.40,115.60L681.70,385.56M371.40,119.20L681.70,389.16M371.40,122.80L681.70,392.76M371.40,126.40L681.70,396.36M371.40,130.00L681.70,399.96M371.40,133.60L681.70,403.56M371.40,137.20L681.70,407.16M371.40,140.80L681.70,410.76M371.40,144.40L681.70,414.36M371.40,148.00L681.70,417.96M371.40,151.60L681.70,421.56M371.40,155.20L681.70,425.16M371.40,158.80L681.70,428.76M371.40,162.40L681.70,432.36M371.40,166.00L681.70,435.96M371.40,169.60L681.70,439.56M371.40,173.20L681.70,443.16M371.40,176.80L681.70,446.76M371.40,180.40L681.70,450.36M371.40,184.00L681.70,453.96M371.40,187.60L681.70,457.56M371.40,191.20L681.70,461.16M371.40,194.80L681.70,464.76M371.40,198.40L681.70,468.36M371.40,202.00L681.70,471.96M371.40,205.60L681.70,475.56M371.40,209.20L681.70,479.16M371.40,212.80L681.70,482.76M371.40,216.40L681.70,486.36" stroke="#222" stroke-width="0.9" fill="none"/>
<rect x="429.03" y="210.70" width="8.87" height="3.50" fill="none" stroke="#1a1a1a" stroke-width="0.85"/>
<rect x="437.89" y="207.19" width="8.87" height="7.01" fill="none" stroke="#1a1a1a" stroke-width="0.85"/>
<rect x="446.76" y="207.19" width="8.87" height="7.01" fill="none" stroke="#1a1a1a" stroke-width="0.85"/>
<rect x="455.62" y="179.17" width="8.87" height="35.03" fill="none" stroke="#1a1a1a" stroke-width="0.85"/>
<rect x="464.49" y="168.66" width="8.87" height="45.54" fill="none" stroke="#1a1a1a" stroke-width="0.85"/>
<rect x="473.36" y="151.14" width="8.87" height="63.06" fill="none" stroke="#1a1a1a" stroke-width="0.85"/>
<rect x="482.22" y="151.14" width="8.87" height="63.06" fill="none" stroke="#1a1a1a" stroke-width="0.85"/>
<rect x="491.09" y="112.60" width="8.87" height="101.60" fill="none" stroke="#1a1a1a" stroke-width="0.85"/>
<rect x="499.95" y="126.62" width="8.87" height="87.58" fill="none" stroke="#1a1a1a" stroke-width="0.85"/>
<rect x="508.82" y="28.52" width="8.87" height="185.68" fill="none" stroke="#1a1a1a" stroke-width="0.85"/>
<rect x="517.68" y="70.56" width="8.87" height="143.64" fill="none" stroke="#1a1a1a" stroke-width="0.85"/>
<rect x="526.55" y="21.52" width="8.87" height="192.68" fill="none" stroke="#1a1a1a" stroke-width="0.85"/>
<rect x="535.42" y="84.58" width="8.87" height="129.62" fill="none" stroke="#1a1a1a" stroke-width="0.85"/>
<rect x="544.28" y="102.09" width="8.87" height="112.11" fill="none" stroke="#1a1a1a" stroke-width="0.85"/>
<rect x="553.15" y="147.64" width="8.87" height="66.56" fill="none" stroke="#1a1a1a" stroke-width="0.85"/>
<rect x="562.01" y="151.14" width="8.87" height="63.06" fill="none" stroke="#1a1a1a" stroke-width="0.85"/>
<rect x="570.88" y="179.17" width="8.87" height="35.03" fill="none" stroke="#1a1a1a" stroke-width="0.85"/>
<rect x="579.74" y="182.67" width="8.87" height="31.53" fill="none" stroke="#1a1a1a" stroke-width="0.85"/>
<rect x="588.61" y="200.19" width="8.87" height="14.01" fill="none" stroke="#1a1a1a" stroke-width="0.85"/>
<rect x="597.48" y="207.19" width="8.87" height="7.01" fill="none" stroke="#1a1a1a" stroke-width="0.85"/>
<rect x="606.34" y="207.19" width="8.87" height="7.01" fill="none" stroke="#1a1a1a" stroke-width="0.85"/>
<rect x="615.21" y="207.19" width="8.87" height="7.01" fill="none" stroke="#1a1a1a" stroke-width="0.85"/>
<rect x="624.07" y="210.70" width="8.87" height="3.50" fill="none" stroke="#1a1a1a" stroke-width="0.85"/>
<polyline points="371.40,213.95 372.29,213.94 373.17,213.92 374.06,213.90 374.95,213.87 375.83,213.85 376.72,213.83 377.61,213.80 378.49,213.77 379.38,213.74 380.27,213.71 381.15,213.68 382.04,213.65 382.93,213.61 383.81,213.57 384.70,213.53 385.59,213.48 386.47,213.44 387.36,213.39 388.24,213.33 389.13,213.28 390.02,213.22 390.90,213.16 391.79,213.09 392.68,213.02 393.56,212.95 394.45,212.87 395.34,212.79 396.22,212.70 397.11,212.61 398.00,212.52 398.88,212.42 399.77,212.31 400.66,212.20 401.54,212.09 402.43,211.96 403.32,211.84 404.20,211.70 405.09,211.56 405.98,211.41 406.86,211.26 407.75,211.09 408.64,210.92 409.52,210.75 410.41,210.56 411.30,210.36 412.18,210.16 413.07,209.95 413.96,209.73 414.84,209.49 415.73,209.25 416.62,209.00 417.50,208.73 418.39,208.46 419.27,208.17 420.16,207.88 421.05,207.57 421.93,207.24 422.82,206.91 423.71,206.56 424.59,206.20 425.48,205.83 426.37,205.44 427.25,205.03 428.14,204.62 429.03,204.18 429.91,203.73 430.80,203.27 431.69,202.79 432.57,202.29 433.46,201.78 434.35,201.25 435.23,200.70 436.12,200.14 437.01,199.56 437.89,198.95 438.78,198.34 439.67,197.70 440.55,197.04 441.44,196.37 442.33,195.67 443.21,194.96 444.10,194.23 444.99,193.47 445.87,192.70 446.76,191.91 447.65,191.09 448.53,190.26 449.42,189.41 450.30,188.54 451.19,187.64 452.08,186.73 452.96,185.80 453.85,184.84 454.74,183.87 455.62,182.88 456.51,181.87 457.40,180.84 458.28,179.79 459.17,178.72 460.06,177.63 460.94,176.52 461.83,175.40 462.72,174.26 463.60,173.10 464.49,171.92 465.38,170.73 466.26,169.52 467.15,168.30 468.04,167.06 468.92,165.81 469.81,164.55 470.70,163.27 471.58,161.98 472.47,160.68 473.36,159.37 474.24,158.05 475.13,156.72 476.02,155.38 476.90,154.04 477.79,152.69 478.68,151.33 479.56,149.97 480.45,148.61 481.33,147.24 482.22,145.88 483.11,144.51 483.99,143.14 484.88,141.78 485.77,140.42 486.65,139.07 487.54,137.72 488.43,136.37 489.31,135.04 490.20,133.71 491.09,132.40 491.97,131.10 492.86,129.81 493.75,128.53 494.63,127.27 495.52,126.03 496.41,124.80 497.29,123.60 498.18,122.41 499.07,121.25 499.95,120.11 500.84,118.99 501.73,117.90 502.61,116.83 503.50,115.80 504.39,114.79 505.27,113.81 506.16,112.86 507.05,111.94 507.93,111.06 508.82,110.21 509.71,109.40 510.59,108.62 511.48,107.88 512.36,107.17 513.25,106.51 514.14,105.88 515.02,105.30 515.91,104.75 516.80,104.24 517.68,103.78 518.57,103.36 519.46,102.98 520.34,102.65 521.23,102.36 522.12,102.11 523.00,101.91 523.89,101.75 524.78,101.64 525.66,101.57 526.55,101.55 527.44,101.57 528.32,101.64 529.21,101.75 530.10,101.91 530.98,102.11 531.87,102.36 532.76,102.65 533.64,102.98 534.53,103.36 535.42,103.78 536.30,104.24 537.19,104.75 538.08,105.30 538.96,105.88 539.85,106.51 540.74,107.17 541.62,107.88 542.51,108.62 543.39,109.40 544.28,110.21 545.17,111.06 546.05,111.94 546.94,112.86 547.83,113.81 548.71,114.79 549.60,115.80 550.49,116.83 551.37,117.90 552.26,118.99 553.15,120.11 554.03,121.25 554.92,122.41 555.81,123.60 556.69,124.80 557.58,126.03 558.47,127.27 559.35,128.53 560.24,129.81 561.13,131.10 562.01,132.40 562.90,133.71 563.79,135.04 564.67,136.37 565.56,137.72 566.45,139.07 567.33,140.42 568.22,141.78 569.11,143.14 569.99,144.51 570.88,145.88 571.77,147.24 572.65,148.61 573.54,149.97 574.42,151.33 575.31,152.69 576.20,154.04 577.08,155.38 577.97,156.72 578.86,158.05 579.74,159.37 580.63,160.68 581.52,161.98 582.40,163.27 583.29,164.55 584.18,165.81 585.06,167.06 585.95,168.30 586.84,169.52 587.72,170.73 588.61,171.92 589.50,173.10 590.38,174.26 591.27,175.40 592.16,176.52 593.04,177.63 593.93,178.72 594.82,179.79 595.70,180.84 596.59,181.87 597.48,182.88 598.36,183.87 599.25,184.84 600.14,185.80 601.02,186.73 601.91,187.64 602.80,188.54 603.68,189.41 604.57,190.26 605.45,191.09 606.34,191.91 607.23,192.70 608.11,193.47 609.00,194.23 609.89,194.96 610.77,195.67 611.66,196.37 612.55,197.04 613.43,197.70 614.32,198.34 615.21,198.95 616.09,199.56 616.98,200.14 617.87,200.70 618.75,201.25 619.64,201.78 620.53,202.29 621.41,202.79 622.30,203.27 623.19,203.73 624.07,204.18 624.96,204.62 625.85,205.03 626.73,205.44 627.62,205.83 628.51,206.20 629.39,206.56 630.28,206.91 631.17,207.24 632.05,207.57 632.94,207.88 633.83,208.17 634.71,208.46 635.60,208.73 636.48,209.00 637.37,209.25 638.26,209.49 639.14,209.73 640.03,209.95 640.92,210.16 641.80,210.36 642.69,210.56 643.58,210.75 644.46,210.92 645.35,211.09 646.24,211.26 647.12,211.41 648.01,211.56 648.90,211.70 649.78,211.84 650.67,211.96 651.56,212.09 652.44,212.20 653.33,212.31 654.22,212.42 655.10,212.52 655.99,212.61 656.88,212.70 657.76,212.79 658.65,212.87 659.54,212.95 660.42,213.02 661.31,213.09 662.20,213.16 663.08,213.22 663.97,213.28 664.86,213.33 665.74,213.39 666.63,213.44 667.51,213.48 668.40,213.53 669.29,213.57 670.17,213.61 671.06,213.65 671.95,213.68 672.83,213.71 673.72,213.74 674.61,213.77 675.49,213.80 676.38,213.83 677.27,213.85 678.15,213.87 679.04,213.90 679.93,213.92 680.81,213.94 681.70,213.95" fill="none" stroke="#333" stroke-width="0.8"/>
<line x1="393.56" y1="214.20" x2="393.56" y2="210.20" stroke="#222" stroke-width="1"/>
<line x1="437.89" y1="214.20" x2="437.89" y2="210.20" stroke="#222" stroke-width="1"/>
<line x1="482.22" y1="214.20" x2="482.22" y2="210.20" stroke="#222" stroke-width="1"/>
<line x1="526.55" y1="214.20" x2="526.55" y2="210.20" stroke="#222" stroke-width="1"/>
<line x1="570.88" y1="214.20" x2="570.88" y2="210.20" stroke="#222" stroke-width="1"/>
<line x1="615.21" y1="214.20" x2="615.21" y2="210.20" stroke="#222" stroke-width="1"/>
<line x1="659.54" y1="214.20" x2="659.54" y2="210.20" stroke="#222" stroke-width="1"/>
<line x1="415.73" y1="214.20" x2="415.73" y2="212.20" stroke="#222" stroke-width="1"/>
<line x1="460.06" y1="214.20" x2="460.06" y2="212.20" stroke="#222" stroke-width="1"/>
<line x1="504.39" y1="214.20" x2="504.39" y2="212.20" stroke="#222" stroke-width="1"/>
<line x1="548.71" y1="214.20" x2="548.71" y2="212.20" stroke="#222" stroke-width="1"/>
<line x1="593.04" y1="214.20" x2="593.04" y2="212.20" stroke="#222" stroke-width="1"/>
<line x1="637.37" y1="214.20" x2="637.37" y2="212.20" stroke="#222" stroke-width="1"/>
<line x1="371.40" y1="214.20" x2="374.90" y2="214.20" stroke="#222" stroke-width="1"/>
<line x1="371.40" y1="179.17" x2="374.90" y2="179.17" stroke="#222" stroke-width="1"/>
<line x1="371.40" y1="144.13" x2="374.90" y2="144.13" stroke="#222" stroke-width="1"/>
<line x1="371.40" y1="109.10" x2="374.90" y2="109.10" stroke="#222" stroke-width="1"/>
<line x1="371.40" y1="74.07" x2="374.90" y2="74.07" stroke="#222" stroke-width="1"/>
<line x1="371.40" y1="39.03" x2="374.90" y2="39.03" stroke="#222" stroke-width="1"/>
<line x1="371.40" y1="4.00" x2="374.90" y2="4.00" stroke="#222" stroke-width="1"/>
<line x1="371.40" y1="196.68" x2="373.40" y2="196.68" stroke="#222" stroke-width="1"/>
<line x1="371.40" y1="161.65" x2="373.40" y2="161.65" stroke="#222" stroke-width="1"/>
<line x1="371.40" y1="126.62" x2="373.40" y2="126.62" stroke="#222" stroke-width="1"/>
<line x1="371.40" y1="91.58" x2="373.40" y2="91.58" stroke="#222" stroke-width="1"/>
<line x1="371.40" y1="56.55" x2="373.40" y2="56.55" stroke="#222" stroke-width="1"/>
<line x1="371.40" y1="21.52" x2="373.40" y2="21.52" stroke="#222" stroke-width="1"/>
<rect x="371.40" y="4.00" width="310.30" height="210.20" fill="none" stroke="#222" stroke-width="1.1"/>
<text transform="translate(393.56,227.20) scale(1,1.2)" font-family="Liberation Serif" font-size="11" text-anchor="middle" >-3</text>
<text transform="translate(437.89,227.20) scale(1,1.2)" font-family="Liberation Serif" font-size="11" text-anchor="middle" >-2</text>
<text transform="translate(482.22,227.20) scale(1,1.2)" font-family="Liberation Serif" font-size="11" text-anchor="middle" >-1</text>
<text transform="translate(526.55,227.20) scale(1,1.2)" font-family="Liberation Serif" font-size="11" text-anchor="middle" >0</text>
<text transform="translate(570.88,227.20) scale(1,1.2)" font-family="Liberation Serif" font-size="11" text-anchor="middle" >1</text>
<text transform="translate(615.21,227.20) scale(1,1.2)" font-family="Liberation Serif" font-size="11" text-anchor="middle" >2</text>
<text transform="translate(659.54,227.20) scale(1,1.2)" font-family="Liberation Serif" font-size="11" text-anchor="middle" >3</text>
<text transform="translate(368.20,217.80) scale(1,1.2)" font-family="Liberation Serif" font-size="11" text-anchor="end" >0</text>
<text transform="translate(368.20,182.77) scale(1,1.2)" font-family="Liberation Serif" font-size="11" text-anchor="end" >10</text>
<text transform="translate(368.20,147.73) scale(1,1.2)" font-family="Liberation Serif" font-size="11" text-anchor="end" >20</text>
<text transform="translate(368.20,112.70) scale(1,1.2)" font-family="Liberation Serif" font-size="11" text-anchor="end" >30</text>
<text transform="translate(368.20,77.67) scale(1,1.2)" font-family="Liberation Serif" font-size="11" text-anchor="end" >40</text>
<text transform="translate(368.20,42.63) scale(1,1.2)" font-family="Liberation Serif" font-size="11" text-anchor="end" >50</text>
<text transform="translate(368.20,7.60) scale(1,1.2)" font-family="Liberation Serif" font-size="11" text-anchor="end" >60</text>
<text transform="translate(526.50,245.70) scale(1,1.2)" font-family="Liberation Serif" font-size="11" text-anchor="middle" >Standardised residual</text>
<text transform="translate(350.50,116.50) rotate(-90) scale(1,1.2)" font-family="Liberation Serif" font-size="11" text-anchor="middle" >Count</text>
<text transform="translate(339.40,9.60) scale(1,1.0)" font-family="Liberation Sans" font-size="11" text-anchor="start" stroke="#000" stroke-width="0.15">b</text>
<clipPath id="hc2"><rect x="401.80" y="470.16" width="8.91" height="8.44"/><rect x="410.71" y="465.94" width="8.91" height="12.66"/><rect x="419.63" y="465.94" width="8.91" height="12.66"/><rect x="428.54" y="453.28" width="8.91" height="25.32"/><rect x="437.46" y="461.72" width="8.91" height="16.88"/><rect x="446.37" y="465.94" width="8.91" height="12.66"/><rect x="455.29" y="440.62" width="8.91" height="37.98"/><rect x="464.20" y="449.06" width="8.91" height="29.54"/><rect x="473.11" y="444.84" width="8.91" height="33.76"/><rect x="482.03" y="419.52" width="8.91" height="59.08"/><rect x="490.94" y="360.44" width="8.91" height="118.16"/><rect x="499.86" y="360.44" width="8.91" height="118.16"/><rect x="508.77" y="339.34" width="8.91" height="139.26"/><rect x="517.69" y="297.14" width="8.91" height="181.46"/><rect x="526.60" y="322.46" width="8.91" height="156.14"/><rect x="535.51" y="360.44" width="8.91" height="118.16"/><rect x="544.43" y="326.68" width="8.91" height="151.92"/><rect x="553.34" y="356.22" width="8.91" height="122.38"/><rect x="562.26" y="368.88" width="8.91" height="109.72"/><rect x="571.17" y="335.12" width="8.91" height="143.48"/><rect x="580.09" y="415.30" width="8.91" height="63.30"/><rect x="589.00" y="457.50" width="8.91" height="21.10"/><rect x="597.91" y="470.16" width="8.91" height="8.44"/></clipPath>
<rect x="401.80" y="470.16" width="8.91" height="8.44" fill="#fff"/>
<rect x="410.71" y="465.94" width="8.91" height="12.66" fill="#fff"/>
<rect x="419.63" y="465.94" width="8.91" height="12.66" fill="#fff"/>
<rect x="428.54" y="453.28" width="8.91" height="25.32" fill="#fff"/>
<rect x="437.46" y="461.72" width="8.91" height="16.88" fill="#fff"/>
<rect x="446.37" y="465.94" width="8.91" height="12.66" fill="#fff"/>
<rect x="455.29" y="440.62" width="8.91" height="37.98" fill="#fff"/>
<rect x="464.20" y="449.06" width="8.91" height="29.54" fill="#fff"/>
<rect x="473.11" y="444.84" width="8.91" height="33.76" fill="#fff"/>
<rect x="482.03" y="419.52" width="8.91" height="59.08" fill="#fff"/>
<rect x="490.94" y="360.44" width="8.91" height="118.16" fill="#fff"/>
<rect x="499.86" y="360.44" width="8.91" height="118.16" fill="#fff"/>
<rect x="508.77" y="339.34" width="8.91" height="139.26" fill="#fff"/>
<rect x="517.69" y="297.14" width="8.91" height="181.46" fill="#fff"/>
<rect x="526.60" y="322.46" width="8.91" height="156.14" fill="#fff"/>
<rect x="535.51" y="360.44" width="8.91" height="118.16" fill="#fff"/>
<rect x="544.43" y="326.68" width="8.91" height="151.92" fill="#fff"/>
<rect x="553.34" y="356.22" width="8.91" height="122.38" fill="#fff"/>
<rect x="562.26" y="368.88" width="8.91" height="109.72" fill="#fff"/>
<rect x="571.17" y="335.12" width="8.91" height="143.48" fill="#fff"/>
<rect x="580.09" y="415.30" width="8.91" height="63.30" fill="#fff"/>
<rect x="589.00" y="457.50" width="8.91" height="21.10" fill="#fff"/>
<rect x="597.91" y="470.16" width="8.91" height="8.44" fill="#fff"/>
<path clip-path="url(#hc2)" d="M370.60,-9.60L682.60,261.84M370.60,-6.00L682.60,265.44M370.60,-2.40L682.60,269.04M370.60,1.20L682.60,272.64M370.60,4.80L682.60,276.24M370.60,8.40L682.60,279.84M370.60,12.00L682.60,283.44M370.60,15.60L682.60,287.04M370.60,19.20L682.60,290.64M370.60,22.80L682.60,294.24M370.60,26.40L682.60,297.84M370.60,30.00L682.60,301.44M370.60,33.60L682.60,305.04M370.60,37.20L682.60,308.64M370.60,40.80L682.60,312.24M370.60,44.40L682.60,315.84M370.60,48.00L682.60,319.44M370.60,51.60L682.60,323.04M370.60,55.20L682.60,326.64M370.60,58.80L682.60,330.24M370.60,62.40L682.60,333.84M370.60,66.00L682.60,337.44M370.60,69.60L682.60,341.04M370.60,73.20L682.60,344.64M370.60,76.80L682.60,348.24M370.60,80.40L682.60,351.84M370.60,84.00L682.60,355.44M370.60,87.60L682.60,359.04M370.60,91.20L682.60,362.64M370.60,94.80L682.60,366.24M370.60,98.40L682.60,369.84M370.60,102.00L682.60,373.44M370.60,105.60L682.60,377.04M370.60,109.20L682.60,380.64M370.60,112.80L682.60,384.24M370.60,116.40L682.60,387.84M370.60,120.00L682.60,391.44M370.60,123.60L682.60,395.04M370.60,127.20L682.60,398.64M370.60,130.80L682.60,402.24M370.60,134.40L682.60,405.84M370.60,138.00L682.60,409.44M370.60,141.60L682.60,413.04M370.60,145.20L682.60,416.64M370.60,148.80L682.60,420.24M370.60,152.40L682.60,423.84M370.60,156.00L682.60,427.44M370.60,159.60L682.60,431.04M370.60,163.20L682.60,434.64M370.60,166.80L682.60,438.24M370.60,170.40L682.60,441.84M370.60,174.00L682.60,445.44M370.60,177.60L682.60,449.04M370.60,181.20L682.60,452.64M370.60,184.80L682.60,456.24M370.60,188.40L682.60,459.84M370.60,192.00L682.60,463.44M370.60,195.60L682.60,467.04M370.60,199.20L682.60,470.64M370.60,202.80L682.60,474.24M370.60,206.40L682.60,477.84M370.60,210.00L682.60,481.44M370.60,213.60L682.60,485.04M370.60,217.20L682.60,488.64M370.60,220.80L682.60,492.24M370.60,224.40L682.60,495.84M370.60,228.00L682.60,499.44M370.60,231.60L682.60,503.04M370.60,235.20L682.60,506.64M370.60,238.80L682.60,510.24M370.60,242.40L682.60,513.84M370.60,246.00L682.60,517.44M370.60,249.60L682.60,521.04M370.60,253.20L682.60,524.64M370.60,256.80L682.60,528.24M370.60,260.40L682.60,531.84M370.60,264.00L682.60,535.44M370.60,267.60L682.60,539.04M370.60,271.20L682.60,542.64M370.60,274.80L682.60,546.24M370.60,278.40L682.60,549.84M370.60,282.00L682.60,553.44M370.60,285.60L682.60,557.04M370.60,289.20L682.60,560.64M370.60,292.80L682.60,564.24M370.60,296.40L682.60,567.84M370.60,300.00L682.60,571.44M370.60,303.60L682.60,575.04M370.60,307.20L682.60,578.64M370.60,310.80L682.60,582.24M370.60,314.40L682.60,585.84M370.60,318.00L682.60,589.44M370.60,321.60L682.60,593.04M370.60,325.20L682.60,596.64M370.60,328.80L682.60,600.24M370.60,332.40L682.60,603.84M370.60,336.00L682.60,607.44M370.60,339.60L682.60,611.04M370.60,343.20L682.60,614.64M370.60,346.80L682.60,618.24M370.60,350.40L682.60,621.84M370.60,354.00L682.60,625.44M370.60,357.60L682.60,629.04M370.60,361.20L682.60,632.64M370.60,364.80L682.60,636.24M370.60,368.40L682.60,639.84M370.60,372.00L682.60,643.44M370.60,375.60L682.60,647.04M370.60,379.20L682.60,650.64M370.60,382.80L682.60,654.24M370.60,386.40L682.60,657.84M370.60,390.00L682.60,661.44M370.60,393.60L682.60,665.04M370.60,397.20L682.60,668.64M370.60,400.80L682.60,672.24M370.60,404.40L682.60,675.84M370.60,408.00L682.60,679.44M370.60,411.60L682.60,683.04M370.60,415.20L682.60,686.64M370.60,418.80L682.60,690.24M370.60,422.40L682.60,693.84M370.60,426.00L682.60,697.44M370.60,429.60L682.60,701.04M370.60,433.20L682.60,704.64M370.60,436.80L682.60,708.24M370.60,440.40L682.60,711.84M370.60,444.00L682.60,715.44M370.60,447.60L682.60,719.04M370.60,451.20L682.60,722.64M370.60,454.80L682.60,726.24M370.60,458.40L682.60,729.84M370.60,462.00L682.60,733.44M370.60,465.60L682.60,737.04M370.60,469.20L682.60,740.64M370.60,472.80L682.60,744.24M370.60,476.40L682.60,747.84M370.60,480.00L682.60,751.44" stroke="#222" stroke-width="0.9" fill="none"/>
<rect x="401.80" y="470.16" width="8.91" height="8.44" fill="none" stroke="#1a1a1a" stroke-width="0.85"/>
<rect x="410.71" y="465.94" width="8.91" height="12.66" fill="none" stroke="#1a1a1a" stroke-width="0.85"/>
<rect x="419.63" y="465.94" width="8.91" height="12.66" fill="none" stroke="#1a1a1a" stroke-width="0.85"/>
<rect x="428.54" y="453.28" width="8.91" height="25.32" fill="none" stroke="#1a1a1a" stroke-width="0.85"/>
<rect x="437.46" y="461.72" width="8.91" height="16.88" fill="none" stroke="#1a1a1a" stroke-width="0.85"/>
<rect x="446.37" y="465.94" width="8.91" height="12.66" fill="none" stroke="#1a1a1a" stroke-width="0.85"/>
<rect x="455.29" y="440.62" width="8.91" height="37.98" fill="none" stroke="#1a1a1a" stroke-width="0.85"/>
<rect x="464.20" y="449.06" width="8.91" height="29.54" fill="none" stroke="#1a1a1a" stroke-width="0.85"/>
<rect x="473.11" y="444.84" width="8.91" height="33.76" fill="none" stroke="#1a1a1a" stroke-width="0.85"/>
<rect x="482.03" y="419.52" width="8.91" height="59.08" fill="none" stroke="#1a1a1a" stroke-width="0.85"/>
<rect x="490.94" y="360.44" width="8.91" height="118.16" fill="none" stroke="#1a1a1a" stroke-width="0.85"/>
<rect x="499.86" y="360.44" width="8.91" height="118.16" fill="none" stroke="#1a1a1a" stroke-width="0.85"/>
<rect x="508.77" y="339.34" width="8.91" height="139.26" fill="none" stroke="#1a1a1a" stroke-width="0.85"/>
<rect x="517.69" y="297.14" width="8.91" height="181.46" fill="none" stroke="#1a1a1a" stroke-width="0.85"/>
<rect x="526.60" y="322.46" width="8.91" height="156.14" fill="none" stroke="#1a1a1a" stroke-width="0.85"/>
<rect x="535.51" y="360.44" width="8.91" height="118.16" fill="none" stroke="#1a1a1a" stroke-width="0.85"/>
<rect x="544.43" y="326.68" width="8.91" height="151.92" fill="none" stroke="#1a1a1a" stroke-width="0.85"/>
<rect x="553.34" y="356.22" width="8.91" height="122.38" fill="none" stroke="#1a1a1a" stroke-width="0.85"/>
<rect x="562.26" y="368.88" width="8.91" height="109.72" fill="none" stroke="#1a1a1a" stroke-width="0.85"/>
<rect x="571.17" y="335.12" width="8.91" height="143.48" fill="none" stroke="#1a1a1a" stroke-width="0.85"/>
<rect x="580.09" y="415.30" width="8.91" height="63.30" fill="none" stroke="#1a1a1a" stroke-width="0.85"/>
<rect x="589.00" y="457.50" width="8.91" height="21.10" fill="none" stroke="#1a1a1a" stroke-width="0.85"/>
<rect x="597.91" y="470.16" width="8.91" height="8.44" fill="none" stroke="#1a1a1a" stroke-width="0.85"/>
<polyline points="370.60,478.30 371.49,478.28 372.38,478.26 373.27,478.23 374.17,478.21 375.06,478.18 375.95,478.15 376.84,478.12 377.73,478.09 378.62,478.05 379.51,478.01 380.41,477.97 381.30,477.93 382.19,477.89 383.08,477.84 383.97,477.79 384.86,477.74 385.75,477.68 386.65,477.62 387.54,477.56 388.43,477.49 389.32,477.42 390.21,477.34 391.10,477.26 391.99,477.18 392.89,477.09 393.78,477.00 394.67,476.90 395.56,476.80 396.45,476.69 397.34,476.58 398.23,476.45 399.13,476.33 400.02,476.19 400.91,476.05 401.80,475.91 402.69,475.75 403.58,475.59 404.47,475.42 405.37,475.24 406.26,475.06 407.15,474.86 408.04,474.65 408.93,474.44 409.82,474.21 410.71,473.98 411.61,473.73 412.50,473.48 413.39,473.21 414.28,472.93 415.17,472.64 416.06,472.33 416.95,472.02 417.85,471.69 418.74,471.34 419.63,470.98 420.52,470.61 421.41,470.22 422.30,469.82 423.19,469.40 424.09,468.97 424.98,468.51 425.87,468.05 426.76,467.56 427.65,467.06 428.54,466.53 429.43,465.99 430.33,465.43 431.22,464.86 432.11,464.26 433.00,463.64 433.89,463.00 434.78,462.34 435.67,461.66 436.57,460.96 437.46,460.24 438.35,459.49 439.24,458.72 440.13,457.93 441.02,457.12 441.91,456.28 442.81,455.42 443.70,454.54 444.59,453.63 445.48,452.70 446.37,451.75 447.26,450.77 448.15,449.76 449.05,448.74 449.94,447.69 450.83,446.61 451.72,445.51 452.61,444.39 453.50,443.24 454.39,442.07 455.29,440.87 456.18,439.65 457.07,438.41 457.96,437.15 458.85,435.86 459.74,434.55 460.63,433.21 461.53,431.86 462.42,430.48 463.31,429.09 464.20,427.67 465.09,426.24 465.98,424.78 466.87,423.31 467.77,421.82 468.66,420.31 469.55,418.79 470.44,417.25 471.33,415.70 472.22,414.13 473.11,412.55 474.01,410.96 474.90,409.36 475.79,407.75 476.68,406.13 477.57,404.50 478.46,402.87 479.35,401.23 480.25,399.59 481.14,397.94 482.03,396.30 482.92,394.65 483.81,393.01 484.70,391.37 485.59,389.73 486.49,388.10 487.38,386.47 488.27,384.85 489.16,383.25 490.05,381.65 490.94,380.07 491.83,378.50 492.73,376.94 493.62,375.41 494.51,373.89 495.40,372.39 496.29,370.92 497.18,369.46 498.07,368.04 498.97,366.63 499.86,365.26 500.75,363.91 501.64,362.60 502.53,361.32 503.42,360.07 504.31,358.85 505.21,357.67 506.10,356.53 506.99,355.43 507.88,354.36 508.77,353.34 509.66,352.36 510.55,351.42 511.45,350.53 512.34,349.68 513.23,348.88 514.12,348.12 515.01,347.42 515.90,346.76 516.79,346.15 517.69,345.59 518.58,345.09 519.47,344.63 520.36,344.23 521.25,343.88 522.14,343.58 523.03,343.34 523.93,343.15 524.82,343.02 525.71,342.93 526.60,342.91 527.49,342.93 528.38,343.02 529.27,343.15 530.17,343.34 531.06,343.58 531.95,343.88 532.84,344.23 533.73,344.63 534.62,345.09 535.51,345.59 536.41,346.15 537.30,346.76 538.19,347.42 539.08,348.12 539.97,348.88 540.86,349.68 541.75,350.53 542.65,351.42 543.54,352.36 544.43,353.34 545.32,354.36 546.21,355.43 547.10,356.53 547.99,357.67 548.89,358.85 549.78,360.07 550.67,361.32 551.56,362.60 552.45,363.91 553.34,365.26 554.23,366.63 555.13,368.04 556.02,369.46 556.91,370.92 557.80,372.39 558.69,373.89 559.58,375.41 560.47,376.94 561.37,378.50 562.26,380.07 563.15,381.65 564.04,383.25 564.93,384.85 565.82,386.47 566.71,388.10 567.61,389.73 568.50,391.37 569.39,393.01 570.28,394.65 571.17,396.30 572.06,397.94 572.95,399.59 573.85,401.23 574.74,402.87 575.63,404.50 576.52,406.13 577.41,407.75 578.30,409.36 579.19,410.96 580.09,412.55 580.98,414.13 581.87,415.70 582.76,417.25 583.65,418.79 584.54,420.31 585.43,421.82 586.33,423.31 587.22,424.78 588.11,426.24 589.00,427.67 589.89,429.09 590.78,430.48 591.67,431.86 592.57,433.21 593.46,434.55 594.35,435.86 595.24,437.15 596.13,438.41 597.02,439.65 597.91,440.87 598.81,442.07 599.70,443.24 600.59,444.39 601.48,445.51 602.37,446.61 603.26,447.69 604.15,448.74 605.05,449.76 605.94,450.77 606.83,451.75 607.72,452.70 608.61,453.63 609.50,454.54 610.39,455.42 611.29,456.28 612.18,457.12 613.07,457.93 613.96,458.72 614.85,459.49 615.74,460.24 616.63,460.96 617.53,461.66 618.42,462.34 619.31,463.00 620.20,463.64 621.09,464.26 621.98,464.86 622.87,465.43 623.77,465.99 624.66,466.53 625.55,467.06 626.44,467.56 627.33,468.05 628.22,468.51 629.11,468.97 630.01,469.40 630.90,469.82 631.79,470.22 632.68,470.61 633.57,470.98 634.46,471.34 635.35,471.69 636.25,472.02 637.14,472.33 638.03,472.64 638.92,472.93 639.81,473.21 640.70,473.48 641.59,473.73 642.49,473.98 643.38,474.21 644.27,474.44 645.16,474.65 646.05,474.86 646.94,475.06 647.83,475.24 648.73,475.42 649.62,475.59 650.51,475.75 651.40,475.91 652.29,476.05 653.18,476.19 654.07,476.33 654.97,476.45 655.86,476.58 656.75,476.69 657.64,476.80 658.53,476.90 659.42,477.00 660.31,477.09 661.21,477.18 662.10,477.26 662.99,477.34 663.88,477.42 664.77,477.49 665.66,477.56 666.55,477.62 667.45,477.68 668.34,477.74 669.23,477.79 670.12,477.84 671.01,477.89 671.90,477.93 672.79,477.97 673.69,478.01 674.58,478.05 675.47,478.09 676.36,478.12 677.25,478.15 678.14,478.18 679.03,478.21 679.93,478.23 680.82,478.26 681.71,478.28 682.60,478.30" fill="none" stroke="#111" stroke-width="1.2"/>
<line x1="392.89" y1="478.60" x2="392.89" y2="474.60" stroke="#222" stroke-width="1"/>
<line x1="437.46" y1="478.60" x2="437.46" y2="474.60" stroke="#222" stroke-width="1"/>
<line x1="482.03" y1="478.60" x2="482.03" y2="474.60" stroke="#222" stroke-width="1"/>
<line x1="526.60" y1="478.60" x2="526.60" y2="474.60" stroke="#222" stroke-width="1"/>
<line x1="571.17" y1="478.60" x2="571.17" y2="474.60" stroke="#222" stroke-width="1"/>
<line x1="615.74" y1="478.60" x2="615.74" y2="474.60" stroke="#222" stroke-width="1"/>
<line x1="660.31" y1="478.60" x2="660.31" y2="474.60" stroke="#222" stroke-width="1"/>
<line x1="415.17" y1="478.60" x2="415.17" y2="476.60" stroke="#222" stroke-width="1"/>
<line x1="459.74" y1="478.60" x2="459.74" y2="476.60" stroke="#222" stroke-width="1"/>
<line x1="504.31" y1="478.60" x2="504.31" y2="476.60" stroke="#222" stroke-width="1"/>
<line x1="548.89" y1="478.60" x2="548.89" y2="476.60" stroke="#222" stroke-width="1"/>
<line x1="593.46" y1="478.60" x2="593.46" y2="476.60" stroke="#222" stroke-width="1"/>
<line x1="638.03" y1="478.60" x2="638.03" y2="476.60" stroke="#222" stroke-width="1"/>
<line x1="370.60" y1="478.60" x2="374.10" y2="478.60" stroke="#222" stroke-width="1"/>
<line x1="370.60" y1="436.40" x2="374.10" y2="436.40" stroke="#222" stroke-width="1"/>
<line x1="370.60" y1="394.20" x2="374.10" y2="394.20" stroke="#222" stroke-width="1"/>
<line x1="370.60" y1="352.00" x2="374.10" y2="352.00" stroke="#222" stroke-width="1"/>
<line x1="370.60" y1="309.80" x2="374.10" y2="309.80" stroke="#222" stroke-width="1"/>
<line x1="370.60" y1="267.60" x2="374.10" y2="267.60" stroke="#222" stroke-width="1"/>
<line x1="370.60" y1="457.50" x2="372.60" y2="457.50" stroke="#222" stroke-width="1"/>
<line x1="370.60" y1="415.30" x2="372.60" y2="415.30" stroke="#222" stroke-width="1"/>
<line x1="370.60" y1="373.10" x2="372.60" y2="373.10" stroke="#222" stroke-width="1"/>
<line x1="370.60" y1="330.90" x2="372.60" y2="330.90" stroke="#222" stroke-width="1"/>
<line x1="370.60" y1="288.70" x2="372.60" y2="288.70" stroke="#222" stroke-width="1"/>
<line x1="370.60" y1="478.60" x2="682.60" y2="478.60" stroke="#999" stroke-width="1.1"/>
<polyline points="370.60,478.60 370.60,267.60 682.60,267.60 682.60,478.60" fill="none" stroke="#222" stroke-width="1.1"/>
<text transform="translate(392.89,491.10) scale(1,1.2)" font-family="Liberation Serif" font-size="11" text-anchor="middle" >-3</text>
<text transform="translate(437.46,491.10) scale(1,1.2)" font-family="Liberation Serif" font-size="11" text-anchor="middle" >-2</text>
<text transform="translate(482.03,491.10) scale(1,1.2)" font-family="Liberation Serif" font-size="11" text-anchor="middle" >-1</text>
<text transform="translate(526.60,491.10) scale(1,1.2)" font-family="Liberation Serif" font-size="11" text-anchor="middle" >0</text>
<text transform="translate(571.17,491.10) scale(1,1.2)" font-family="Liberation Serif" font-size="11" text-anchor="middle" >1</text>
<text transform="translate(615.74,491.10) scale(1,1.2)" font-family="Liberation Serif" font-size="11" text-anchor="middle" >2</text>
<text transform="translate(660.31,491.10) scale(1,1.2)" font-family="Liberation Serif" font-size="11" text-anchor="middle" >3</text>
<text transform="translate(367.50,482.20) scale(1,1.2)" font-family="Liberation Serif" font-size="11" text-anchor="end" >0</text>
<text transform="translate(367.50,440.00) scale(1,1.2)" font-family="Liberation Serif" font-size="11" text-anchor="end" >10</text>
<text transform="translate(367.50,397.80) scale(1,1.2)" font-family="Liberation Serif" font-size="11" text-anchor="end" >20</text>
<text transform="translate(367.50,355.60) scale(1,1.2)" font-family="Liberation Serif" font-size="11" text-anchor="end" >30</text>
<text transform="translate(367.50,313.40) scale(1,1.2)" font-family="Liberation Serif" font-size="11" text-anchor="end" >40</text>
<text transform="translate(367.50,271.20) scale(1,1.2)" font-family="Liberation Serif" font-size="11" text-anchor="end" >50</text>
<text transform="translate(526.50,510.20) scale(1,1.2)" font-family="Liberation Serif" font-size="11" text-anchor="middle" >Standardised residual</text>
<text transform="translate(349.50,380.50) rotate(-90) scale(1,1.2)" font-family="Liberation Serif" font-size="11" text-anchor="middle" >Count</text>
<text transform="translate(341.30,272.00) scale(1,1.0)" font-family="Liberation Sans" font-size="11" text-anchor="start" stroke="#000" stroke-width="0.15">d</text>
<clipPath id="hc3"><rect x="404.32" y="741.37" width="8.89" height="6.03"/><rect x="413.21" y="741.37" width="8.89" height="6.03"/><rect x="422.10" y="735.34" width="8.89" height="12.06"/><rect x="430.99" y="729.31" width="8.89" height="18.09"/><rect x="439.89" y="687.11" width="8.89" height="60.29"/><rect x="448.78" y="699.17" width="8.89" height="48.23"/><rect x="457.67" y="687.11" width="8.89" height="60.29"/><rect x="466.56" y="638.89" width="8.89" height="108.51"/><rect x="475.45" y="638.89" width="8.89" height="108.51"/><rect x="484.34" y="602.71" width="8.89" height="144.69"/><rect x="493.23" y="602.71" width="8.89" height="144.69"/><rect x="502.13" y="590.66" width="8.89" height="156.74"/><rect x="511.02" y="620.80" width="8.89" height="126.60"/><rect x="519.91" y="578.60" width="8.89" height="168.80"/><rect x="528.80" y="560.51" width="8.89" height="186.89"/><rect x="537.69" y="566.54" width="8.89" height="180.86"/><rect x="546.58" y="566.54" width="8.89" height="180.86"/><rect x="555.47" y="578.60" width="8.89" height="168.80"/><rect x="564.37" y="590.66" width="8.89" height="156.74"/><rect x="573.26" y="602.71" width="8.89" height="144.69"/><rect x="582.15" y="650.94" width="8.89" height="96.46"/><rect x="591.04" y="687.11" width="8.89" height="60.29"/><rect x="599.93" y="681.09" width="8.89" height="66.31"/><rect x="617.71" y="729.31" width="8.89" height="18.09"/><rect x="626.61" y="741.37" width="8.89" height="6.03"/><rect x="635.50" y="741.37" width="8.89" height="6.03"/><rect x="644.39" y="741.37" width="8.89" height="6.03"/><rect x="653.28" y="741.37" width="8.89" height="6.03"/></clipPath>
<rect x="404.32" y="741.37" width="8.89" height="6.03" fill="#fff"/>
<rect x="413.21" y="741.37" width="8.89" height="6.03" fill="#fff"/>
<rect x="422.10" y="735.34" width="8.89" height="12.06" fill="#fff"/>
<rect x="430.99" y="729.31" width="8.89" height="18.09" fill="#fff"/>
<rect x="439.89" y="687.11" width="8.89" height="60.29" fill="#fff"/>
<rect x="448.78" y="699.17" width="8.89" height="48.23" fill="#fff"/>
<rect x="457.67" y="687.11" width="8.89" height="60.29" fill="#fff"/>
<rect x="466.56" y="638.89" width="8.89" height="108.51" fill="#fff"/>
<rect x="475.45" y="638.89" width="8.89" height="108.51" fill="#fff"/>
<rect x="484.34" y="602.71" width="8.89" height="144.69" fill="#fff"/>
<rect x="493.23" y="602.71" width="8.89" height="144.69" fill="#fff"/>
<rect x="502.13" y="590.66" width="8.89" height="156.74" fill="#fff"/>
<rect x="511.02" y="620.80" width="8.89" height="126.60" fill="#fff"/>
<rect x="519.91" y="578.60" width="8.89" height="168.80" fill="#fff"/>
<rect x="528.80" y="560.51" width="8.89" height="186.89" fill="#fff"/>
<rect x="537.69" y="566.54" width="8.89" height="180.86" fill="#fff"/>
<rect x="546.58" y="566.54" width="8.89" height="180.86" fill="#fff"/>
<rect x="555.47" y="578.60" width="8.89" height="168.80" fill="#fff"/>
<rect x="564.37" y="590.66" width="8.89" height="156.74" fill="#fff"/>
<rect x="573.26" y="602.71" width="8.89" height="144.69" fill="#fff"/>
<rect x="582.15" y="650.94" width="8.89" height="96.46" fill="#fff"/>
<rect x="591.04" y="687.11" width="8.89" height="60.29" fill="#fff"/>
<rect x="599.93" y="681.09" width="8.89" height="66.31" fill="#fff"/>
<rect x="617.71" y="729.31" width="8.89" height="18.09" fill="#fff"/>
<rect x="626.61" y="741.37" width="8.89" height="6.03" fill="#fff"/>
<rect x="635.50" y="741.37" width="8.89" height="6.03" fill="#fff"/>
<rect x="644.39" y="741.37" width="8.89" height="6.03" fill="#fff"/>
<rect x="653.28" y="741.37" width="8.89" height="6.03" fill="#fff"/>
<path clip-path="url(#hc3)" d="M373.20,259.20L684.40,529.94M373.20,262.80L684.40,533.54M373.20,266.40L684.40,537.14M373.20,270.00L684.40,540.74M373.20,273.60L684.40,544.34M373.20,277.20L684.40,547.94M373.20,280.80L684.40,551.54M373.20,284.40L684.40,555.14M373.20,288.00L684.40,558.74M373.20,291.60L684.40,562.34M373.20,295.20L684.40,565.94M373.20,298.80L684.40,569.54M373.20,302.40L684.40,573.14M373.20,306.00L684.40,576.74M373.20,309.60L684.40,580.34M373.20,313.20L684.40,583.94M373.20,316.80L684.40,587.54M373.20,320.40L684.40,591.14M373.20,324.00L684.40,594.74M373.20,327.60L684.40,598.34M373.20,331.20L684.40,601.94M373.20,334.80L684.40,605.54M373.20,338.40L684.40,609.14M373.20,342.00L684.40,612.74M373.20,345.60L684.40,616.34M373.20,349.20L684.40,619.94M373.20,352.80L684.40,623.54M373.20,356.40L684.40,627.14M373.20,360.00L684.40,630.74M373.20,363.60L684.40,634.34M373.20,367.20L684.40,637.94M373.20,370.80L684.40,641.54M373.20,374.40L684.40,645.14M373.20,378.00L684.40,648.74M373.20,381.60L684.40,652.34M373.20,385.20L684.40,655.94M373.20,388.80L684.40,659.54M373.20,392.40L684.40,663.14M373.20,396.00L684.40,666.74M373.20,399.60L684.40,670.34M373.20,403.20L684.40,673.94M373.20,406.80L684.40,677.54M373.20,410.40L684.40,681.14M373.20,414.00L684.40,684.74M373.20,417.60L684.40,688.34M373.20,421.20L684.40,691.94M373.20,424.80L684.40,695.54M373.20,428.40L684.40,699.14M373.20,432.00L684.40,702.74M373.20,435.60L684.40,706.34M373.20,439.20L684.40,709.94M373.20,442.80L684.40,713.54M373.20,446.40L684.40,717.14M373.20,450.00L684.40,720.74M373.20,453.60L684.40,724.34M373.20,457.20L684.40,727.94M373.20,460.80L684.40,731.54M373.20,464.40L684.40,735.14M373.20,468.00L684.40,738.74M373.20,471.60L684.40,742.34M373.20,475.20L684.40,745.94M373.20,478.80L684.40,749.54M373.20,482.40L684.40,753.14M373.20,486.00L684.40,756.74M373.20,489.60L684.40,760.34M373.20,493.20L684.40,763.94M373.20,496.80L684.40,767.54M373.20,500.40L684.40,771.14M373.20,504.00L684.40,774.74M373.20,507.60L684.40,778.34M373.20,511.20L684.40,781.94M373.20,514.80L684.40,785.54M373.20,518.40L684.40,789.14M373.20,522.00L684.40,792.74M373.20,525.60L684.40,796.34M373.20,529.20L684.40,799.94M373.20,532.80L684.40,803.54M373.20,536.40L684.40,807.14M373.20,540.00L684.40,810.74M373.20,543.60L684.40,814.34M373.20,547.20L684.40,817.94M373.20,550.80L684.40,821.54M373.20,554.40L684.40,825.14M373.20,558.00L684.40,828.74M373.20,561.60L684.40,832.34M373.20,565.20L684.40,835.94M373.20,568.80L684.40,839.54M373.20,572.40L684.40,843.14M373.20,576.00L684.40,846.74M373.20,579.60L684.40,850.34M373.20,583.20L684.40,853.94M373.20,586.80L684.40,857.54M373.20,590.40L684.40,861.14M373.20,594.00L684.40,864.74M373.20,597.60L684.40,868.34M373.20,601.20L684.40,871.94M373.20,604.80L684.40,875.54M373.20,608.40L684.40,879.14M373.20,612.00L684.40,882.74M373.20,615.60L684.40,886.34M373.20,619.20L684.40,889.94M373.20,622.80L684.40,893.54M373.20,626.40L684.40,897.14M373.20,630.00L684.40,900.74M373.20,633.60L684.40,904.34M373.20,637.20L684.40,907.94M373.20,640.80L684.40,911.54M373.20,644.40L684.40,915.14M373.20,648.00L684.40,918.74M373.20,651.60L684.40,922.34M373.20,655.20L684.40,925.94M373.20,658.80L684.40,929.54M373.20,662.40L684.40,933.14M373.20,666.00L684.40,936.74M373.20,669.60L684.40,940.34M373.20,673.20L684.40,943.94M373.20,676.80L684.40,947.54M373.20,680.40L684.40,951.14M373.20,684.00L684.40,954.74M373.20,687.60L684.40,958.34M373.20,691.20L684.40,961.94M373.20,694.80L684.40,965.54M373.20,698.40L684.40,969.14M373.20,702.00L684.40,972.74M373.20,705.60L684.40,976.34M373.20,709.20L684.40,979.94M373.20,712.80L684.40,983.54M373.20,716.40L684.40,987.14M373.20,720.00L684.40,990.74M373.20,723.60L684.40,994.34M373.20,727.20L684.40,997.94M373.20,730.80L684.40,1001.54M373.20,734.40L684.40,1005.14M373.20,738.00L684.40,1008.74M373.20,741.60L684.40,1012.34M373.20,745.20L684.40,1015.94M373.20,748.80L684.40,1019.54" stroke="#222" stroke-width="0.9" fill="none"/>
<rect x="404.32" y="741.37" width="8.89" height="6.03" fill="none" stroke="#1a1a1a" stroke-width="0.85"/>
<rect x="413.21" y="741.37" width="8.89" height="6.03" fill="none" stroke="#1a1a1a" stroke-width="0.85"/>
<rect x="422.10" y="735.34" width="8.89" height="12.06" fill="none" stroke="#1a1a1a" stroke-width="0.85"/>
<rect x="430.99" y="729.31" width="8.89" height="18.09" fill="none" stroke="#1a1a1a" stroke-width="0.85"/>
<rect x="439.89" y="687.11" width="8.89" height="60.29" fill="none" stroke="#1a1a1a" stroke-width="0.85"/>
<rect x="448.78" y="699.17" width="8.89" height="48.23" fill="none" stroke="#1a1a1a" stroke-width="0.85"/>
<rect x="457.67" y="687.11" width="8.89" height="60.29" fill="none" stroke="#1a1a1a" stroke-width="0.85"/>
<rect x="466.56" y="638.89" width="8.89" height="108.51" fill="none" stroke="#1a1a1a" stroke-width="0.85"/>
<rect x="475.45" y="638.89" width="8.89" height="108.51" fill="none" stroke="#1a1a1a" stroke-width="0.85"/>
<rect x="484.34" y="602.71" width="8.89" height="144.69" fill="none" stroke="#1a1a1a" stroke-width="0.85"/>
<rect x="493.23" y="602.71" width="8.89" height="144.69" fill="none" stroke="#1a1a1a" stroke-width="0.85"/>
<rect x="502.13" y="590.66" width="8.89" height="156.74" fill="none" stroke="#1a1a1a" stroke-width="0.85"/>
<rect x="511.02" y="620.80" width="8.89" height="126.60" fill="none" stroke="#1a1a1a" stroke-width="0.85"/>
<rect x="519.91" y="578.60" width="8.89" height="168.80" fill="none" stroke="#1a1a1a" stroke-width="0.85"/>
<rect x="528.80" y="560.51" width="8.89" height="186.89" fill="none" stroke="#1a1a1a" stroke-width="0.85"/>
<rect x="537.69" y="566.54" width="8.89" height="180.86" fill="none" stroke="#1a1a1a" stroke-width="0.85"/>
<rect x="546.58" y="566.54" width="8.89" height="180.86" fill="none" stroke="#1a1a1a" stroke-width="0.85"/>
<rect x="555.47" y="578.60" width="8.89" height="168.80" fill="none" stroke="#1a1a1a" stroke-width="0.85"/>
<rect x="564.37" y="590.66" width="8.89" height="156.74" fill="none" stroke="#1a1a1a" stroke-width="0.85"/>
<rect x="573.26" y="602.71" width="8.89" height="144.69" fill="none" stroke="#1a1a1a" stroke-width="0.85"/>
<rect x="582.15" y="650.94" width="8.89" height="96.46" fill="none" stroke="#1a1a1a" stroke-width="0.85"/>
<rect x="591.04" y="687.11" width="8.89" height="60.29" fill="none" stroke="#1a1a1a" stroke-width="0.85"/>
<rect x="599.93" y="681.09" width="8.89" height="66.31" fill="none" stroke="#1a1a1a" stroke-width="0.85"/>
<rect x="617.71" y="729.31" width="8.89" height="18.09" fill="none" stroke="#1a1a1a" stroke-width="0.85"/>
<rect x="626.61" y="741.37" width="8.89" height="6.03" fill="none" stroke="#1a1a1a" stroke-width="0.85"/>
<rect x="635.50" y="741.37" width="8.89" height="6.03" fill="none" stroke="#1a1a1a" stroke-width="0.85"/>
<rect x="644.39" y="741.37" width="8.89" height="6.03" fill="none" stroke="#1a1a1a" stroke-width="0.85"/>
<rect x="653.28" y="741.37" width="8.89" height="6.03" fill="none" stroke="#1a1a1a" stroke-width="0.85"/>
<polyline points="373.20,746.97 374.09,746.94 374.98,746.91 375.87,746.87 376.76,746.84 377.65,746.80 378.53,746.75 379.42,746.71 380.31,746.66 381.20,746.61 382.09,746.55 382.98,746.50 383.87,746.44 384.76,746.37 385.65,746.30 386.54,746.23 387.43,746.15 388.32,746.07 389.20,745.98 390.09,745.89 390.98,745.80 391.87,745.69 392.76,745.59 393.65,745.47 394.54,745.35 395.43,745.23 396.32,745.09 397.21,744.95 398.10,744.80 398.99,744.64 399.87,744.48 400.76,744.31 401.65,744.12 402.54,743.93 403.43,743.73 404.32,743.52 405.21,743.29 406.10,743.06 406.99,742.81 407.88,742.56 408.77,742.29 409.65,742.00 410.54,741.71 411.43,741.40 412.32,741.07 413.21,740.73 414.10,740.38 414.99,740.01 415.88,739.62 416.77,739.22 417.66,738.80 418.55,738.36 419.44,737.90 420.32,737.42 421.21,736.93 422.10,736.41 422.99,735.87 423.88,735.31 424.77,734.73 425.66,734.13 426.55,733.50 427.44,732.85 428.33,732.17 429.22,731.47 430.11,730.74 430.99,729.99 431.88,729.21 432.77,728.41 433.66,727.57 434.55,726.71 435.44,725.82 436.33,724.89 437.22,723.94 438.11,722.96 439.00,721.95 439.89,720.91 440.77,719.83 441.66,718.72 442.55,717.58 443.44,716.41 444.33,715.20 445.22,713.96 446.11,712.69 447.00,711.38 447.89,710.03 448.78,708.66 449.67,707.25 450.56,705.80 451.44,704.32 452.33,702.80 453.22,701.25 454.11,699.66 455.00,698.04 455.89,696.38 456.78,694.69 457.67,692.97 458.56,691.21 459.45,689.42 460.34,687.59 461.23,685.73 462.11,683.84 463.00,681.92 463.89,679.97 464.78,677.98 465.67,675.97 466.56,673.92 467.45,671.85 468.34,669.76 469.23,667.63 470.12,665.48 471.01,663.31 471.89,661.11 472.78,658.89 473.67,656.65 474.56,654.39 475.45,652.11 476.34,649.81 477.23,647.50 478.12,645.18 479.01,642.84 479.90,640.49 480.79,638.14 481.68,635.77 482.56,633.41 483.45,631.03 484.34,628.66 485.23,626.28 486.12,623.91 487.01,621.54 487.90,619.18 488.79,616.83 489.68,614.48 490.57,612.15 491.46,609.83 492.35,607.53 493.23,605.24 494.12,602.98 495.01,600.74 495.90,598.52 496.79,596.33 497.68,594.17 498.57,592.04 499.46,589.94 500.35,587.88 501.24,585.86 502.13,583.88 503.01,581.94 503.90,580.04 504.79,578.19 505.68,576.39 506.57,574.63 507.46,572.93 508.35,571.28 509.24,569.69 510.13,568.16 511.02,566.68 511.91,565.27 512.80,563.91 513.68,562.62 514.57,561.40 515.46,560.24 516.35,559.15 517.24,558.14 518.13,557.19 519.02,556.31 519.91,555.51 520.80,554.77 521.69,554.12 522.58,553.54 523.47,553.03 524.35,552.61 525.24,552.25 526.13,551.98 527.02,551.79 527.91,551.67 528.80,551.63 529.69,551.67 530.58,551.79 531.47,551.98 532.36,552.25 533.25,552.61 534.13,553.03 535.02,553.54 535.91,554.12 536.80,554.77 537.69,555.51 538.58,556.31 539.47,557.19 540.36,558.14 541.25,559.15 542.14,560.24 543.03,561.40 543.92,562.62 544.80,563.91 545.69,565.27 546.58,566.68 547.47,568.16 548.36,569.69 549.25,571.28 550.14,572.93 551.03,574.63 551.92,576.39 552.81,578.19 553.70,580.04 554.59,581.94 555.47,583.88 556.36,585.86 557.25,587.88 558.14,589.94 559.03,592.04 559.92,594.17 560.81,596.33 561.70,598.52 562.59,600.74 563.48,602.98 564.37,605.24 565.25,607.53 566.14,609.83 567.03,612.15 567.92,614.48 568.81,616.83 569.70,619.18 570.59,621.54 571.48,623.91 572.37,626.28 573.26,628.66 574.15,631.03 575.04,633.41 575.92,635.77 576.81,638.14 577.70,640.49 578.59,642.84 579.48,645.18 580.37,647.50 581.26,649.81 582.15,652.11 583.04,654.39 583.93,656.65 584.82,658.89 585.71,661.11 586.59,663.31 587.48,665.48 588.37,667.63 589.26,669.76 590.15,671.85 591.04,673.92 591.93,675.97 592.82,677.98 593.71,679.97 594.60,681.92 595.49,683.84 596.37,685.73 597.26,687.59 598.15,689.42 599.04,691.21 599.93,692.97 600.82,694.69 601.71,696.38 602.60,698.04 603.49,699.66 604.38,701.25 605.27,702.80 606.16,704.32 607.04,705.80 607.93,707.25 608.82,708.66 609.71,710.03 610.60,711.38 611.49,712.69 612.38,713.96 613.27,715.20 614.16,716.41 615.05,717.58 615.94,718.72 616.83,719.83 617.71,720.91 618.60,721.95 619.49,722.96 620.38,723.94 621.27,724.89 622.16,725.82 623.05,726.71 623.94,727.57 624.83,728.41 625.72,729.21 626.61,729.99 627.49,730.74 628.38,731.47 629.27,732.17 630.16,732.85 631.05,733.50 631.94,734.13 632.83,734.73 633.72,735.31 634.61,735.87 635.50,736.41 636.39,736.93 637.28,737.42 638.16,737.90 639.05,738.36 639.94,738.80 640.83,739.22 641.72,739.62 642.61,740.01 643.50,740.38 644.39,740.73 645.28,741.07 646.17,741.40 647.06,741.71 647.95,742.00 648.83,742.29 649.72,742.56 650.61,742.81 651.50,743.06 652.39,743.29 653.28,743.52 654.17,743.73 655.06,743.93 655.95,744.12 656.84,744.31 657.73,744.48 658.61,744.64 659.50,744.80 660.39,744.95 661.28,745.09 662.17,745.23 663.06,745.35 663.95,745.47 664.84,745.59 665.73,745.69 666.62,745.80 667.51,745.89 668.40,745.98 669.28,746.07 670.17,746.15 671.06,746.23 671.95,746.30 672.84,746.37 673.73,746.44 674.62,746.50 675.51,746.55 676.40,746.61 677.29,746.66 678.18,746.71 679.07,746.75 679.95,746.80 680.84,746.84 681.73,746.87 682.62,746.91 683.51,746.94 684.40,746.97" fill="none" stroke="#111" stroke-width="1.2"/>
<line x1="395.43" y1="747.40" x2="395.43" y2="743.40" stroke="#222" stroke-width="1"/>
<line x1="439.89" y1="747.40" x2="439.89" y2="743.40" stroke="#222" stroke-width="1"/>
<line x1="484.34" y1="747.40" x2="484.34" y2="743.40" stroke="#222" stroke-width="1"/>
<line x1="528.80" y1="747.40" x2="528.80" y2="743.40" stroke="#222" stroke-width="1"/>
<line x1="573.26" y1="747.40" x2="573.26" y2="743.40" stroke="#222" stroke-width="1"/>
<line x1="617.71" y1="747.40" x2="617.71" y2="743.40" stroke="#222" stroke-width="1"/>
<line x1="662.17" y1="747.40" x2="662.17" y2="743.40" stroke="#222" stroke-width="1"/>
<line x1="417.66" y1="747.40" x2="417.66" y2="745.40" stroke="#222" stroke-width="1"/>
<line x1="462.11" y1="747.40" x2="462.11" y2="745.40" stroke="#222" stroke-width="1"/>
<line x1="506.57" y1="747.40" x2="506.57" y2="745.40" stroke="#222" stroke-width="1"/>
<line x1="551.03" y1="747.40" x2="551.03" y2="745.40" stroke="#222" stroke-width="1"/>
<line x1="595.49" y1="747.40" x2="595.49" y2="745.40" stroke="#222" stroke-width="1"/>
<line x1="639.94" y1="747.40" x2="639.94" y2="745.40" stroke="#222" stroke-width="1"/>
<line x1="373.20" y1="747.40" x2="376.70" y2="747.40" stroke="#222" stroke-width="1"/>
<line x1="373.20" y1="687.11" x2="376.70" y2="687.11" stroke="#222" stroke-width="1"/>
<line x1="373.20" y1="626.83" x2="376.70" y2="626.83" stroke="#222" stroke-width="1"/>
<line x1="373.20" y1="566.54" x2="376.70" y2="566.54" stroke="#222" stroke-width="1"/>
<line x1="373.20" y1="717.26" x2="375.20" y2="717.26" stroke="#222" stroke-width="1"/>
<line x1="373.20" y1="656.97" x2="375.20" y2="656.97" stroke="#222" stroke-width="1"/>
<line x1="373.20" y1="596.69" x2="375.20" y2="596.69" stroke="#222" stroke-width="1"/>
<line x1="373.20" y1="536.40" x2="375.20" y2="536.40" stroke="#222" stroke-width="1"/>
<rect x="373.20" y="536.40" width="311.20" height="211.00" fill="none" stroke="#222" stroke-width="1.1"/>
<text transform="translate(395.43,759.70) scale(1,1.2)" font-family="Liberation Serif" font-size="11" text-anchor="middle" >-3</text>
<text transform="translate(439.89,759.70) scale(1,1.2)" font-family="Liberation Serif" font-size="11" text-anchor="middle" >-2</text>
<text transform="translate(484.34,759.70) scale(1,1.2)" font-family="Liberation Serif" font-size="11" text-anchor="middle" >-1</text>
<text transform="translate(528.80,759.70) scale(1,1.2)" font-family="Liberation Serif" font-size="11" text-anchor="middle" >0</text>
<text transform="translate(573.26,759.70) scale(1,1.2)" font-family="Liberation Serif" font-size="11" text-anchor="middle" >1</text>
<text transform="translate(617.71,759.70) scale(1,1.2)" font-family="Liberation Serif" font-size="11" text-anchor="middle" >2</text>
<text transform="translate(662.17,759.70) scale(1,1.2)" font-family="Liberation Serif" font-size="11" text-anchor="middle" >3</text>
<text transform="translate(370.00,751.00) scale(1,1.2)" font-family="Liberation Serif" font-size="11" text-anchor="end" >0</text>
<text transform="translate(370.00,690.71) scale(1,1.2)" font-family="Liberation Serif" font-size="11" text-anchor="end" >10</text>
<text transform="translate(370.00,630.43) scale(1,1.2)" font-family="Liberation Serif" font-size="11" text-anchor="end" >20</text>
<text transform="translate(370.00,570.14) scale(1,1.2)" font-family="Liberation Serif" font-size="11" text-anchor="end" >30</text>
<text transform="translate(528.80,779.00) scale(1,1.2)" font-family="Liberation Serif" font-size="11" text-anchor="middle" >Standardised residual</text>
<text transform="translate(351.50,649.00) rotate(-90) scale(1,1.2)" font-family="Liberation Serif" font-size="11" text-anchor="middle" >Count</text>
<text transform="translate(345.80,540.80) scale(1,1.0)" font-family="Liberation Sans" font-size="11" text-anchor="start" stroke="#000" stroke-width="0.15">f</text>
</svg>
</body></html>
